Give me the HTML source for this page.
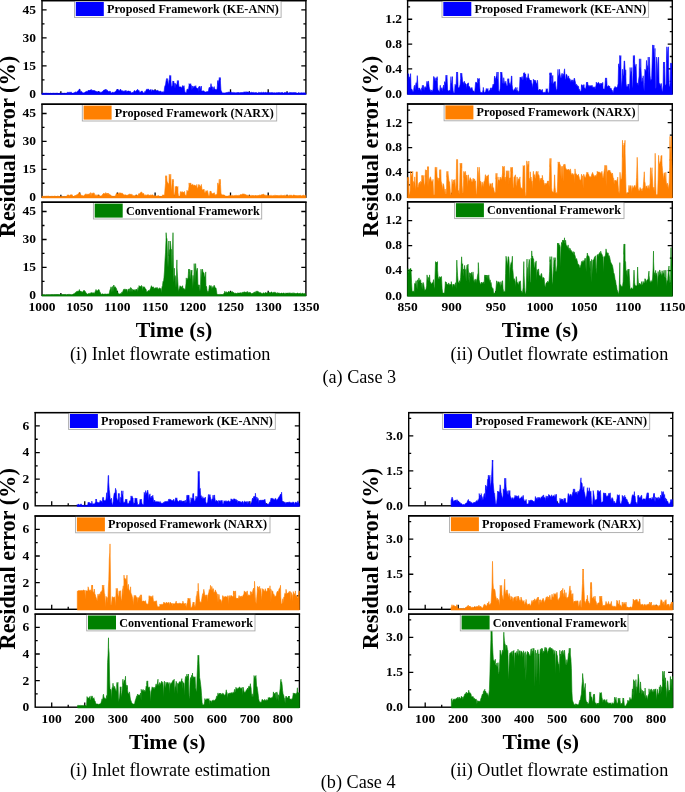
<!DOCTYPE html>
<html><head><meta charset="utf-8"><title>Residual error figure</title>
<style>html,body{margin:0;padding:0;background:#fff;width:685px;height:792px;overflow:hidden;position:relative}</style>
</head><body>
<svg width="685" height="792" viewBox="0 0 685 792" style="position:absolute;left:0;top:0;will-change:transform"><rect width="685" height="792" fill="#fff"/><rect x="42" y="0.6" width="263.9" height="93.2" fill="none" stroke="#000" stroke-width="1.4"/><path d="M42 79.82h2.5M305.9 79.82h-2.5M42 65.84h4.6M305.9 65.84h-4.6M42 51.86h2.5M305.9 51.86h-2.5M42 37.88h4.6M305.9 37.88h-4.6M42 23.9h2.5M305.9 23.9h-2.5M42 9.92h4.6M305.9 9.92h-4.6M60.85 93.8v-2.5M79.7 93.8v-4.6M98.55 93.8v-2.5M117.4 93.8v-4.6M136.25 93.8v-2.5M155.1 93.8v-4.6M173.95 93.8v-2.5M192.8 93.8v-4.6M211.65 93.8v-2.5M230.5 93.8v-4.6M249.35 93.8v-2.5M268.2 93.8v-4.6M287.05 93.8v-2.5" stroke="#000" stroke-width="1.3" fill="none"/><path d="M42.0 94.5L42.00 93.2L42.50 93.3L43.00 93.3L43.50 93.2L44.00 93.2L44.50 93.3L45.00 93.2L45.50 93.2L46.00 93.3L46.50 93.2L47.00 93.2L47.50 93.3L48.00 93.3L48.50 93.3L49.00 93.3L49.50 93.4L50.00 93.3L50.50 93.2L51.00 93.3L51.50 93.4L52.00 93.3L52.50 93.3L53.00 93.2L53.50 93.2L54.00 93.2L54.50 93.3L55.00 93.3L55.50 93.3L56.00 93.4L56.50 93.2L57.00 93.3L57.50 93.2L58.00 93.3L58.50 93.6L59.00 93.2L59.50 93.3L60.00 93.3L60.50 93.3L61.00 93.3L61.50 93.3L62.00 93.3L62.50 93.2L63.00 93.2L63.50 93.3L64.00 93.4L64.50 93.2L65.00 93.3L65.50 93.3L66.00 93.3L66.50 93.2L67.00 93.3L67.50 92.2L68.00 92.3L68.50 92.4L69.00 92.6L69.50 92.3L70.00 92.4L70.50 92.3L71.00 92.3L71.30 92.2L71.50 92.4L72.00 92.8L72.50 93.3L73.00 93.0L73.50 93.0L74.00 92.7L74.50 92.6L75.00 92.2L75.50 91.8L76.00 92.7L76.50 92.1L77.00 91.6L77.50 91.4L78.00 91.2L78.50 90.3L79.00 89.8L79.40 88.9L79.50 89.3L80.00 90.5L80.50 92.2L81.00 91.9L81.50 91.3L82.00 91.7L82.50 92.9L83.00 92.5L83.50 92.9L84.00 93.3L84.50 92.4L85.00 91.9L85.50 92.1L86.00 91.4L86.50 91.4L87.00 91.3L87.50 91.7L88.00 90.4L88.50 90.6L89.00 90.0L89.50 90.8L90.00 90.0L90.50 90.1L91.00 89.6L91.50 89.7L92.00 90.8L92.50 90.3L93.00 90.3L93.50 90.6L94.00 90.3L94.50 90.5L95.00 91.2L95.50 91.1L96.00 91.3L96.50 91.7L97.00 91.2L97.50 92.0L98.00 92.0L98.50 91.8L99.00 91.8L99.50 91.8L100.00 92.2L100.50 92.2L101.00 92.4L101.50 92.1L102.00 92.0L102.50 91.5L103.00 90.8L103.50 90.6L104.00 89.8L104.50 90.0L105.00 90.0L105.50 90.2L105.70 89.0L106.00 89.6L106.50 89.8L107.00 90.7L107.50 90.3L108.00 91.2L108.50 91.6L109.00 91.4L109.50 91.3L110.00 91.2L110.50 91.4L111.00 92.8L111.50 93.2L112.00 92.6L112.30 91.9L112.50 92.5L113.00 92.5L113.50 92.4L114.00 92.2L114.50 92.3L115.00 91.9L115.50 91.3L116.00 90.7L116.50 90.6L117.00 89.5L117.50 89.0L118.00 89.8L118.50 89.8L119.00 91.0L119.50 90.7L120.00 89.8L120.50 89.0L121.00 90.2L121.50 90.7L122.00 90.4L122.50 90.7L123.00 91.5L123.50 90.9L124.00 91.3L124.50 91.3L125.00 90.6L125.50 91.3L126.00 90.3L126.50 91.7L127.00 91.3L127.50 91.3L128.00 91.0L128.50 91.0L129.00 91.1L129.50 91.6L130.00 90.9L130.50 91.4L131.00 92.4L131.50 93.1L132.00 92.5L132.50 92.6L133.00 92.5L133.50 91.9L134.00 91.1L134.50 90.4L135.00 91.0L135.50 92.5L136.00 90.7L136.50 90.5L137.00 90.7L137.50 89.2L138.00 89.8L138.50 90.9L139.00 90.4L139.50 91.9L140.00 92.6L140.50 91.9L141.00 92.0L141.30 90.9L141.50 91.5L142.00 91.1L142.20 90.9L142.50 91.6L143.00 92.6L143.50 92.9L144.00 92.7L144.50 92.7L145.00 91.2L145.50 92.6L146.00 90.3L146.50 89.3L147.00 89.7L147.50 89.3L148.00 88.9L148.50 89.3L149.00 89.5L149.50 90.5L150.00 90.1L150.50 89.9L151.00 89.3L151.50 91.7L152.00 90.8L152.20 89.8L152.50 89.9L153.00 90.0L153.50 90.4L154.00 90.2L154.50 90.3L155.00 90.2L155.50 91.1L156.00 90.5L156.50 90.8L157.00 90.3L157.50 90.3L158.00 91.3L158.50 90.7L159.00 91.4L159.50 91.3L160.00 92.1L160.50 91.0L161.00 91.2L161.50 92.2L162.00 92.2L162.50 91.9L163.00 91.8L163.50 91.7L164.00 92.7L164.50 87.9L165.00 85.4L165.50 85.2L166.00 81.2L166.50 78.9L166.60 78.5L167.00 81.5L167.50 80.7L167.70 78.5L168.00 82.4L168.50 85.5L169.00 80.7L169.50 79.3L169.70 75.4L170.00 75.7L170.50 78.5L170.70 75.4L171.00 81.6L171.50 87.5L172.00 85.9L172.50 85.6L172.80 81.0L173.00 81.1L173.50 81.5L173.80 81.0L174.00 83.2L174.50 83.3L175.00 88.5L175.50 83.4L176.00 84.2L176.50 85.3L177.00 84.1L177.40 80.5L177.50 81.2L178.00 83.1L178.40 80.5L178.50 82.5L179.00 86.8L179.50 87.0L180.00 86.7L180.50 87.1L181.00 86.7L181.50 88.0L182.00 87.8L182.50 85.6L183.00 86.1L183.50 87.4L184.00 85.6L184.50 89.5L185.00 92.3L185.50 92.4L186.00 92.5L186.50 92.4L187.00 89.2L187.50 89.2L188.00 89.3L188.50 89.6L189.00 85.4L189.10 83.6L189.50 84.9L190.00 84.1L190.50 85.1L190.70 83.6L191.00 86.0L191.50 85.6L192.00 90.6L192.50 86.3L193.00 86.0L193.50 87.4L194.00 87.4L194.50 85.9L195.00 86.7L195.50 87.1L195.80 85.6L196.00 87.3L196.50 88.0L197.00 87.9L197.50 88.5L198.00 89.0L198.50 87.3L199.00 91.8L199.30 86.1L199.50 88.4L200.00 86.4L200.50 90.2L201.00 87.4L201.40 86.1L201.50 90.8L202.00 91.3L202.50 90.9L203.00 91.0L203.50 90.9L204.00 90.8L204.50 91.7L205.00 92.1L205.50 92.0L206.00 92.1L206.50 91.6L207.00 91.9L207.50 91.5L208.00 91.8L208.50 90.5L209.00 87.8L209.50 87.2L210.00 88.5L210.50 86.7L211.00 83.6L211.50 86.5L212.00 87.0L212.50 86.8L213.00 90.5L213.50 88.1L214.00 87.0L214.20 86.6L214.50 89.1L215.00 88.7L215.50 90.1L216.00 89.3L216.50 89.7L217.00 89.6L217.50 84.0L217.70 80.5L218.00 84.3L218.50 80.7L219.00 80.2L219.30 77.5L219.50 77.9L220.00 80.0L220.30 77.5L220.50 83.1L221.00 90.9L221.30 90.8L221.50 91.3L222.00 92.3L222.50 93.1L223.00 93.0L223.50 92.9L224.00 92.8L224.50 93.0L225.00 93.1L225.50 92.8L226.00 92.7L226.50 92.6L227.00 92.3L227.50 92.4L228.00 92.2L228.50 92.1L229.00 92.3L229.50 92.2L230.00 91.8L230.50 92.1L231.00 92.2L231.50 92.2L232.00 92.5L232.50 92.6L233.00 92.6L233.50 92.4L234.00 92.7L234.50 92.5L235.00 92.9L235.50 92.6L236.00 93.3L236.50 92.6L237.00 92.5L237.50 92.5L238.00 92.4L238.50 92.5L239.00 92.4L239.50 93.1L240.00 92.3L240.50 92.7L241.00 92.4L241.50 92.6L242.00 92.2L242.50 92.5L243.00 92.4L243.50 92.2L244.00 92.1L244.50 92.0L245.00 92.2L245.50 91.9L246.00 92.2L246.50 91.9L247.00 91.8L247.50 92.1L248.00 92.1L248.50 92.2L249.00 92.3L249.50 92.1L250.00 92.9L250.50 92.6L251.00 92.4L251.50 92.3L252.00 92.2L252.50 92.6L253.00 92.6L253.50 92.4L254.00 92.5L254.50 92.8L255.00 92.6L255.50 92.6L256.00 92.7L256.50 92.7L257.00 92.5L257.50 93.4L258.00 92.8L258.50 92.4L259.00 92.5L259.50 92.5L260.00 92.8L260.50 92.5L261.00 92.7L261.50 92.3L262.00 92.5L262.50 92.7L263.00 92.3L263.50 92.3L264.00 92.4L264.50 92.8L265.00 92.2L265.50 92.4L266.00 92.3L266.50 92.7L267.00 92.5L267.50 92.4L268.00 92.3L268.50 92.6L269.00 92.6L269.50 92.5L270.00 93.0L270.50 92.6L271.00 92.7L271.50 92.6L272.00 92.5L272.50 92.5L273.00 93.2L273.50 92.6L274.00 93.3L274.50 92.6L275.00 92.9L275.50 92.9L276.00 92.6L276.50 92.8L277.00 92.6L277.50 92.8L278.00 92.6L278.50 92.6L279.00 92.6L279.50 92.6L280.00 92.8L280.50 92.7L281.00 92.7L281.50 92.5L282.00 92.6L282.50 92.6L283.00 92.6L283.50 93.2L284.00 92.7L284.50 92.5L285.00 92.8L285.50 92.5L286.00 92.6L286.50 92.7L287.00 92.5L287.50 92.5L288.00 92.5L288.50 93.1L289.00 92.8L289.50 92.4L290.00 92.4L290.50 92.5L291.00 92.5L291.50 92.6L292.00 92.8L292.50 92.6L293.00 92.7L293.50 92.5L294.00 92.5L294.50 92.5L295.00 92.8L295.50 92.6L296.00 92.6L296.50 92.9L297.00 93.2L297.50 93.3L298.00 92.8L298.50 92.6L299.00 92.9L299.50 92.9L300.00 92.7L300.50 93.0L301.00 92.8L301.50 92.8L302.00 92.8L302.50 92.9L303.00 92.7L303.50 92.8L304.00 92.9L304.50 92.8L305.00 92.8L305.50 93.0L305.9 94.5Z" fill="#0000ff" stroke="#0000ff" stroke-width="0.6" stroke-linejoin="round"/><rect x="74.5" y="0.6" width="206.6" height="16.8" fill="#fff" stroke="#a8a8a8" stroke-width="0.9"/><rect x="75.8" y="2" width="28" height="14" fill="#0000ff"/><text x="107" y="13" font-family='"Liberation Serif", serif' font-weight="bold" font-size="12.15">Proposed Framework (KE-ANN)</text><path d="M41.3 0.6H306.6" stroke="#000" stroke-width="1.4"/><text x="36.1" y="97.7" text-anchor="end" font-family='"Liberation Serif", serif' font-weight="bold" font-size="13.5">0</text><text x="36.1" y="69.74" text-anchor="end" font-family='"Liberation Serif", serif' font-weight="bold" font-size="13.5">15</text><text x="36.1" y="41.78" text-anchor="end" font-family='"Liberation Serif", serif' font-weight="bold" font-size="13.5">30</text><text x="36.1" y="13.82" text-anchor="end" font-family='"Liberation Serif", serif' font-weight="bold" font-size="13.5">45</text><rect x="42" y="104.2" width="263.9" height="93" fill="none" stroke="#000" stroke-width="1.4"/><path d="M42 183.25h2.5M305.9 183.25h-2.5M42 169.3h4.6M305.9 169.3h-4.6M42 155.35h2.5M305.9 155.35h-2.5M42 141.4h4.6M305.9 141.4h-4.6M42 127.45h2.5M305.9 127.45h-2.5M42 113.5h4.6M305.9 113.5h-4.6M60.85 197.2v-2.5M79.7 197.2v-4.6M98.55 197.2v-2.5M117.4 197.2v-4.6M136.25 197.2v-2.5M155.1 197.2v-4.6M173.95 197.2v-2.5M192.8 197.2v-4.6M211.65 197.2v-2.5M230.5 197.2v-4.6M249.35 197.2v-2.5M268.2 197.2v-4.6M287.05 197.2v-2.5" stroke="#000" stroke-width="1.3" fill="none"/><path d="M42.0 197.9L42.00 196.1L42.50 196.3L43.00 196.3L43.50 196.4L44.00 196.6L44.50 196.3L45.00 196.4L45.50 196.3L46.00 196.3L46.50 196.2L47.00 196.1L47.50 196.2L48.00 196.1L48.50 196.1L49.00 196.2L49.50 196.4L50.00 196.3L50.50 196.4L51.00 196.4L51.50 196.3L52.00 196.1L52.50 196.3L53.00 196.2L53.50 196.4L54.00 196.1L54.50 196.1L55.00 196.1L55.50 196.3L56.00 196.7L56.50 196.6L57.00 196.3L57.50 196.1L58.00 196.2L58.50 196.3L59.00 196.1L59.50 196.5L60.00 196.5L60.50 196.4L61.00 196.5L61.50 196.5L62.00 196.6L62.50 196.4L63.00 196.6L63.50 196.6L64.00 196.5L64.50 196.4L65.00 196.4L65.50 196.6L66.00 196.6L66.50 196.4L67.00 195.8L67.50 194.8L68.00 195.3L68.50 195.1L69.00 194.9L69.50 196.5L70.00 195.3L70.50 194.8L71.00 194.8L71.50 194.8L72.00 195.2L72.30 194.8L72.50 195.5L73.00 196.4L73.50 196.5L74.00 196.2L74.50 195.7L75.00 195.4L75.50 195.5L76.00 195.4L76.50 194.8L77.00 195.0L77.50 194.4L78.00 193.7L78.50 194.1L79.00 192.8L79.40 192.2L79.50 193.2L80.00 193.9L80.50 194.5L81.00 194.8L81.50 195.2L82.00 195.7L82.50 195.7L83.00 195.6L83.50 196.5L84.00 195.4L84.50 194.9L85.00 195.1L85.50 193.9L86.00 194.2L86.50 194.2L87.00 194.4L87.50 194.3L88.00 194.2L88.50 194.0L89.00 194.6L89.50 194.1L90.00 193.1L90.50 192.7L91.00 195.9L91.50 194.0L92.00 192.8L92.50 194.0L93.00 193.8L93.50 193.0L94.00 192.7L94.50 194.1L95.00 195.7L95.50 195.4L96.00 194.6L96.50 196.1L97.00 195.4L97.50 195.0L98.00 195.3L98.50 195.3L99.00 196.1L99.50 195.3L100.00 195.7L100.50 196.1L101.00 196.1L101.50 195.7L102.00 195.4L102.50 194.5L103.00 193.8L103.50 193.5L104.00 193.3L104.50 193.8L105.00 193.5L105.50 193.4L105.70 192.6L106.00 193.2L106.50 193.4L107.00 194.0L107.50 193.0L108.00 195.2L108.50 193.3L109.00 194.1L109.50 194.3L110.00 195.2L110.50 195.0L111.00 195.1L111.50 196.4L112.00 196.3L112.50 196.2L113.00 196.3L113.50 196.3L114.00 196.4L114.50 196.2L115.00 196.4L115.50 195.5L116.00 194.3L116.50 193.3L117.00 193.6L117.50 193.8L118.00 193.7L118.50 193.6L119.00 192.6L119.50 193.2L120.00 193.3L120.50 193.0L121.00 192.9L121.50 193.3L122.00 193.5L122.50 193.3L123.00 194.0L123.50 194.8L124.00 194.8L124.50 194.9L125.00 195.2L125.50 194.8L126.00 195.0L126.50 195.3L127.00 195.0L127.50 195.2L128.00 195.1L128.50 194.8L129.00 194.3L129.40 193.8L129.50 194.7L130.00 194.5L130.50 194.6L131.00 193.9L131.50 194.9L132.00 194.4L132.50 195.0L133.00 196.3L133.50 195.5L134.00 195.8L134.50 195.7L135.00 195.4L135.50 195.5L136.00 195.2L136.50 195.3L137.00 195.5L137.50 195.0L138.00 196.1L138.50 194.0L139.00 193.6L139.50 194.2L140.00 192.9L140.50 192.8L141.00 192.4L141.30 191.8L141.50 192.5L142.00 192.3L142.50 193.7L143.00 193.8L143.50 193.2L144.00 194.5L144.50 195.2L145.00 195.4L145.50 194.7L146.00 195.5L146.50 195.2L147.00 195.1L147.50 194.8L148.00 195.1L148.40 194.6L148.50 195.6L149.00 195.1L149.50 195.4L150.00 194.8L150.50 195.2L151.00 195.2L151.50 195.2L152.00 194.8L152.50 194.9L153.00 194.9L153.50 195.4L154.00 195.7L154.50 196.0L155.00 195.7L155.50 195.7L156.00 195.9L156.50 196.1L157.00 195.7L157.50 195.9L158.00 195.7L158.50 195.7L159.00 195.7L159.50 196.4L160.00 196.6L160.50 196.4L161.00 196.6L161.50 196.5L162.00 196.4L162.50 195.0L162.60 194.8L163.00 195.3L163.50 195.1L164.00 195.1L164.50 195.3L165.00 188.9L165.50 183.5L165.60 175.7L166.00 178.0L166.50 177.5L166.60 175.7L167.00 181.2L167.50 182.3L168.00 183.2L168.50 184.7L169.00 182.4L169.20 174.2L169.50 174.9L170.00 179.6L170.50 178.1L170.70 174.2L171.00 183.4L171.50 191.7L172.00 184.8L172.30 179.3L172.50 180.8L173.00 182.0L173.30 179.3L173.50 184.6L174.00 196.5L174.50 195.3L175.00 191.8L175.30 186.5L175.50 187.1L176.00 186.6L176.50 186.5L177.00 186.6L177.50 187.7L177.90 186.5L178.00 192.8L178.50 196.3L179.00 196.3L179.50 196.2L180.00 195.6L180.40 191.6L180.50 192.1L181.00 192.3L181.50 191.7L182.00 192.9L182.50 191.7L183.00 192.1L183.50 192.8L184.00 191.8L184.50 191.6L185.00 194.3L185.50 195.6L186.00 195.2L186.50 195.2L187.00 190.2L187.50 192.1L188.00 191.2L188.50 190.2L189.00 186.2L189.10 182.9L189.50 186.1L190.00 183.1L190.50 184.8L190.70 182.9L191.00 184.7L191.50 184.9L192.00 184.7L192.50 184.4L193.00 184.4L193.50 186.3L194.00 185.0L194.50 185.0L195.00 185.6L195.50 185.8L196.00 186.0L196.50 186.6L196.80 184.4L197.00 188.2L197.50 188.0L198.00 187.2L198.50 185.1L198.80 184.4L199.00 185.3L199.50 185.0L200.00 187.5L200.50 185.8L201.00 188.0L201.40 184.4L201.50 185.9L202.00 189.2L202.50 189.7L203.00 190.1L203.50 189.8L204.00 189.0L204.50 192.6L205.00 192.6L205.50 192.3L206.00 190.6L206.50 191.3L207.00 191.4L207.50 190.6L208.00 192.9L208.50 195.7L209.00 195.4L209.50 195.5L210.00 191.1L210.50 191.4L211.00 191.1L211.50 193.3L212.00 193.3L212.50 193.8L213.00 193.7L213.50 193.0L214.00 193.9L214.20 192.6L214.50 193.8L215.00 195.2L215.50 195.0L216.00 195.2L216.20 194.2L216.50 194.9L217.00 195.0L217.50 188.1L217.70 182.9L218.00 184.0L218.50 186.6L219.00 182.3L219.30 179.3L219.50 184.0L220.00 183.8L220.30 179.3L220.50 184.6L221.00 193.3L221.50 194.3L222.00 195.0L222.50 194.9L223.00 194.8L223.50 194.9L224.00 194.9L224.50 195.1L225.00 195.6L225.50 196.2L226.00 196.0L226.50 196.2L227.00 196.1L227.50 196.2L228.00 195.9L228.50 195.8L229.00 196.0L229.50 195.6L230.00 195.6L230.50 195.4L231.00 195.4L231.50 195.7L232.00 195.8L232.50 195.4L233.00 195.4L233.50 195.8L234.00 195.7L234.50 195.5L235.00 195.8L235.50 195.3L236.00 195.6L236.50 195.2L237.00 196.2L237.50 195.3L238.00 196.6L238.50 195.2L239.00 195.5L239.50 195.3L240.00 195.3L240.50 194.5L241.00 194.6L241.50 194.8L242.00 194.2L242.50 194.2L243.00 193.7L243.50 194.3L244.00 194.1L244.50 194.2L245.00 194.6L245.50 194.6L246.00 194.7L246.50 195.1L247.00 195.4L247.50 195.3L248.00 195.4L248.50 196.1L249.00 195.4L249.50 195.8L250.00 195.9L250.50 195.5L251.00 195.8L251.50 195.4L252.00 195.6L252.50 195.5L253.00 195.3L253.50 195.5L254.00 195.7L254.50 195.8L255.00 195.3L255.50 195.5L256.00 195.3L256.50 195.6L257.00 196.3L257.50 195.5L258.00 195.3L258.50 195.5L259.00 195.3L259.50 195.1L260.00 195.5L260.50 195.0L261.00 195.1L261.50 194.7L262.00 194.7L262.50 194.6L263.00 194.2L263.50 194.3L264.00 194.5L264.50 195.0L265.00 195.2L265.50 195.2L266.00 195.5L266.50 195.4L267.00 195.2L267.50 195.5L268.00 195.8L268.50 195.6L269.00 195.5L269.50 195.5L270.00 195.5L270.50 195.4L271.00 195.7L271.50 195.4L272.00 195.7L272.50 195.7L273.00 195.7L273.50 195.5L274.00 195.6L274.50 195.2L275.00 195.7L275.50 195.2L276.00 195.3L276.50 195.6L277.00 195.3L277.50 195.5L278.00 195.6L278.50 195.6L279.00 195.8L279.50 195.5L280.00 195.7L280.50 195.2L281.00 195.3L281.50 195.3L282.00 195.7L282.50 195.6L283.00 195.3L283.50 195.5L284.00 195.5L284.50 195.3L285.00 195.5L285.50 195.4L286.00 195.7L286.50 195.4L287.00 195.7L287.50 195.3L288.00 195.6L288.50 195.7L289.00 195.5L289.50 195.3L290.00 195.0L290.50 195.3L291.00 195.6L291.50 195.1L292.00 195.4L292.50 196.0L293.00 195.2L293.50 195.1L294.00 195.1L294.50 195.1L295.00 195.6L295.50 195.6L296.00 195.2L296.50 195.6L297.00 195.7L297.50 195.5L298.00 195.7L298.50 195.5L299.00 195.5L299.50 195.5L300.00 195.2L300.50 195.4L301.00 195.5L301.50 196.3L302.00 195.3L302.50 195.7L303.00 195.3L303.50 195.2L304.00 195.3L304.50 195.7L305.00 195.4L305.50 195.2L305.9 197.9Z" fill="#ff8000" stroke="#ff8000" stroke-width="0.6" stroke-linejoin="round"/><rect x="82.3" y="104.2" width="194.4" height="16.8" fill="#fff" stroke="#a8a8a8" stroke-width="0.9"/><rect x="83.6" y="105.6" width="28" height="14" fill="#ff8000"/><text x="114.8" y="116.6" font-family='"Liberation Serif", serif' font-weight="bold" font-size="12.15">Proposed Framework (NARX)</text><path d="M41.3 104.2H306.6" stroke="#000" stroke-width="1.4"/><text x="36.1" y="201.1" text-anchor="end" font-family='"Liberation Serif", serif' font-weight="bold" font-size="13.5">0</text><text x="36.1" y="173.2" text-anchor="end" font-family='"Liberation Serif", serif' font-weight="bold" font-size="13.5">15</text><text x="36.1" y="145.3" text-anchor="end" font-family='"Liberation Serif", serif' font-weight="bold" font-size="13.5">30</text><text x="36.1" y="117.4" text-anchor="end" font-family='"Liberation Serif", serif' font-weight="bold" font-size="13.5">45</text><rect x="42" y="202.2" width="263.9" height="93.2" fill="none" stroke="#000" stroke-width="1.4"/><path d="M42 281.42h2.5M305.9 281.42h-2.5M42 267.44h4.6M305.9 267.44h-4.6M42 253.46h2.5M305.9 253.46h-2.5M42 239.48h4.6M305.9 239.48h-4.6M42 225.5h2.5M305.9 225.5h-2.5M42 211.52h4.6M305.9 211.52h-4.6M60.85 295.4v-2.5M79.7 295.4v-4.6M98.55 295.4v-2.5M117.4 295.4v-4.6M136.25 295.4v-2.5M155.1 295.4v-4.6M173.95 295.4v-2.5M192.8 295.4v-4.6M211.65 295.4v-2.5M230.5 295.4v-4.6M249.35 295.4v-2.5M268.2 295.4v-4.6M287.05 295.4v-2.5" stroke="#000" stroke-width="1.3" fill="none"/><path d="M42.0 296.1L42.00 294.8L42.50 294.7L43.00 294.8L43.50 294.7L44.00 294.7L44.50 294.8L45.00 294.8L45.50 295.0L46.00 294.7L46.50 294.8L47.00 294.6L47.50 294.8L48.00 294.7L48.50 294.7L49.00 294.6L49.50 294.8L50.00 294.7L50.50 294.7L51.00 294.6L51.50 294.6L52.00 294.8L52.50 294.6L53.00 294.6L53.50 294.7L54.00 294.6L54.50 294.5L55.00 294.7L55.50 294.5L56.00 294.6L56.50 294.5L57.00 294.6L57.50 294.5L58.00 294.6L58.50 294.5L59.00 294.7L59.50 294.7L60.00 294.5L60.50 294.4L61.00 294.5L61.50 294.6L62.00 294.7L62.50 294.5L63.00 294.5L63.50 294.5L64.00 294.5L64.50 294.5L65.00 294.4L65.50 294.6L65.60 294.4L66.00 294.5L66.50 294.9L67.00 294.6L67.50 294.5L68.00 294.4L68.50 294.4L69.00 294.4L69.50 294.4L70.00 294.5L70.50 294.6L71.00 295.0L71.50 294.7L72.00 294.7L72.50 294.6L73.00 294.3L73.50 293.8L74.00 293.7L74.50 293.4L75.00 293.2L75.50 292.4L76.00 292.6L76.50 291.4L77.00 291.9L77.50 291.2L78.00 290.8L78.50 291.2L79.00 291.3L79.40 289.5L79.50 290.5L80.00 291.5L80.50 291.8L81.00 291.0L81.50 292.1L82.00 292.3L82.50 292.1L83.00 291.5L83.50 290.7L84.00 290.4L84.30 290.1L84.50 291.5L85.00 291.1L85.50 292.0L86.00 292.8L86.50 293.5L87.00 293.7L87.50 294.2L88.00 293.8L88.50 293.5L89.00 293.8L89.50 293.4L90.00 293.2L90.50 293.4L91.00 292.4L91.50 292.8L92.00 293.0L92.50 293.2L93.00 292.5L93.50 293.3L94.00 292.8L94.50 294.0L95.00 291.9L95.50 290.9L96.00 289.5L96.50 290.4L97.00 291.2L97.50 290.7L98.00 289.9L98.50 289.8L99.00 289.5L99.50 291.1L100.00 292.4L100.50 292.7L101.00 293.9L101.50 294.6L102.00 294.1L102.50 293.8L103.00 293.9L103.50 294.3L104.00 293.9L104.50 294.1L105.00 294.3L105.50 294.0L106.00 294.0L106.50 294.2L107.00 294.0L107.50 294.0L108.00 294.0L108.50 294.1L109.00 293.9L109.50 292.2L110.00 289.8L110.50 289.1L111.00 286.8L111.50 288.2L112.00 292.7L112.50 286.5L113.00 292.0L113.50 285.5L114.00 285.0L114.50 288.1L115.00 286.7L115.50 287.0L116.00 288.4L116.50 288.6L117.00 291.5L117.50 291.7L118.00 293.6L118.50 293.4L119.00 293.9L119.50 294.0L120.00 293.7L120.50 293.4L121.00 293.9L121.50 293.0L122.00 291.9L122.50 293.3L123.00 290.4L123.50 290.0L124.00 288.9L124.50 289.2L125.00 290.4L125.50 289.2L126.00 289.6L126.50 289.6L127.00 289.2L127.50 292.7L128.00 290.7L128.50 289.1L129.00 289.0L129.50 288.8L130.00 292.3L130.50 287.8L130.70 287.4L131.00 289.5L131.50 288.3L132.00 292.1L132.50 289.4L133.00 289.6L133.50 290.1L134.00 289.5L134.50 289.9L135.00 290.9L135.50 290.0L136.00 289.1L136.50 289.5L137.00 289.5L137.50 291.9L138.00 287.6L138.50 291.4L139.00 285.6L139.50 286.4L140.00 286.1L140.50 286.4L141.00 287.1L141.50 285.4L142.00 286.4L142.50 290.7L143.00 286.5L143.50 287.1L144.00 287.6L144.50 286.8L145.00 288.3L145.50 288.7L146.00 289.3L146.50 291.3L147.00 291.9L147.50 291.6L148.00 290.7L148.50 290.5L149.00 290.8L149.50 290.4L150.00 289.4L150.50 288.5L151.00 287.0L151.40 285.7L151.50 286.1L152.00 286.7L152.50 287.3L153.00 286.9L153.50 286.9L154.00 288.9L154.50 288.2L155.00 287.7L155.50 288.0L156.00 288.2L156.50 287.6L157.00 288.4L157.50 287.6L158.00 289.5L158.50 288.8L159.00 288.9L159.50 288.0L160.00 287.8L160.50 289.5L161.00 288.5L161.50 293.2L162.00 286.9L162.50 285.7L163.00 281.4L163.50 282.0L164.00 277.2L164.50 270.9L165.00 259.7L165.50 252.9L166.00 240.5L166.10 232.7L166.50 237.6L167.00 239.1L167.50 254.9L168.00 267.4L168.50 256.0L168.80 241.0L169.00 255.9L169.50 249.7L170.00 249.4L170.20 241.0L170.50 243.2L171.00 248.7L171.50 249.5L172.00 271.1L172.50 254.2L173.00 232.7L173.50 275.6L174.00 282.6L174.40 268.2L174.50 280.1L175.00 275.4L175.50 277.3L176.00 288.1L176.50 275.8L176.90 259.9L177.00 268.0L177.50 276.8L178.00 284.9L178.50 291.5L179.00 289.6L179.50 288.0L180.00 285.7L180.50 286.5L181.00 286.5L181.50 287.6L182.00 286.3L182.50 286.3L182.60 285.7L183.00 289.1L183.50 288.4L184.00 288.4L184.50 288.9L185.00 289.9L185.50 288.1L186.00 283.5L186.30 277.9L186.50 280.7L187.00 279.8L187.50 278.5L188.00 279.0L188.50 271.7L188.60 269.1L189.00 272.2L189.50 273.2L189.60 269.1L190.00 279.6L190.50 276.1L191.00 270.1L191.50 273.6L191.90 270.1L192.00 276.5L192.50 289.2L193.00 275.4L193.50 286.4L194.00 272.1L194.20 263.6L194.50 271.5L195.00 283.3L195.50 265.8L195.60 263.6L196.00 269.7L196.50 272.4L197.00 268.6L197.40 268.2L197.50 271.0L198.00 287.6L198.50 284.8L199.00 286.4L199.20 284.8L199.50 288.5L200.00 291.3L200.50 284.5L201.00 269.1L201.50 280.6L202.00 270.6L202.50 269.1L203.00 272.7L203.50 272.4L204.00 273.0L204.50 277.2L205.00 276.4L205.50 276.1L205.70 271.9L206.00 288.1L206.50 286.3L207.00 290.0L207.50 292.9L208.00 291.0L208.50 292.8L209.00 288.3L209.40 285.3L209.50 285.4L210.00 286.0L210.50 286.4L211.00 285.4L211.50 289.6L212.00 286.3L212.50 288.2L213.00 287.7L213.50 286.7L214.00 285.3L214.50 285.7L215.00 287.6L215.50 287.9L216.00 287.9L216.50 290.8L217.00 294.4L217.50 294.5L218.00 294.5L218.50 294.6L219.00 294.7L219.50 294.4L220.00 294.7L220.50 294.4L221.00 294.5L221.50 294.5L222.00 294.5L222.50 294.6L223.00 294.6L223.50 294.6L224.00 293.1L224.50 292.5L224.60 291.4L225.00 291.4L225.50 292.1L226.00 294.0L226.50 291.8L227.00 291.9L227.50 293.3L228.00 292.0L228.50 291.5L229.00 291.4L229.50 292.2L230.00 292.1L230.50 292.2L231.00 292.2L231.50 292.1L232.00 291.4L232.50 291.8L233.00 292.5L233.50 292.5L234.00 292.7L234.50 293.2L235.00 293.2L235.50 293.2L236.00 293.0L236.50 293.5L237.00 293.4L237.50 293.0L238.00 292.9L238.50 293.1L239.00 293.1L239.50 293.1L240.00 292.7L240.50 293.0L241.00 292.5L241.50 293.8L242.00 292.6L242.50 292.3L243.00 293.6L243.50 292.1L244.00 292.0L244.50 291.8L245.00 292.6L245.50 291.9L246.00 292.5L246.50 291.9L247.00 292.3L247.50 292.5L247.60 291.4L248.00 292.2L248.50 292.9L249.00 292.3L249.50 292.3L250.00 293.2L250.50 292.5L251.00 293.0L251.50 294.4L252.00 293.1L252.50 293.4L253.00 293.3L253.50 293.0L254.00 292.2L254.50 292.0L255.00 293.4L255.50 291.9L256.00 292.2L256.30 290.9L256.50 293.2L257.00 291.6L257.50 291.3L258.00 291.6L258.50 291.7L259.00 292.4L259.50 292.4L260.00 292.7L260.50 292.4L261.00 292.9L261.50 293.3L262.00 293.4L262.50 293.4L263.00 293.2L263.50 292.8L264.00 293.0L264.50 294.0L265.00 292.6L265.50 292.7L266.00 292.6L266.50 293.1L267.00 292.8L267.50 292.9L268.00 292.4L268.50 293.0L269.00 293.0L269.50 292.3L270.00 293.0L270.50 292.9L271.00 292.0L271.50 292.0L271.70 291.9L272.00 292.1L272.50 293.6L273.00 292.5L273.50 292.4L274.00 292.4L274.50 292.3L275.00 292.5L275.50 292.4L276.00 292.7L276.50 293.0L277.00 293.7L277.50 292.6L278.00 293.3L278.50 293.1L279.00 293.1L279.50 293.2L280.00 293.3L280.50 293.5L281.00 293.0L281.50 293.1L282.00 293.0L282.50 293.4L283.00 292.9L283.50 293.1L284.00 293.1L284.50 293.4L285.00 293.4L285.50 293.0L286.00 293.5L286.50 293.1L287.00 293.6L287.50 293.2L288.00 293.6L288.50 292.9L289.00 293.0L289.50 293.0L290.00 293.3L290.50 292.9L291.00 293.6L291.50 293.1L292.00 293.2L292.50 293.1L293.00 293.4L293.50 293.0L294.00 293.3L294.50 293.3L295.00 292.9L295.50 293.5L296.00 293.6L296.50 293.6L297.00 293.0L297.50 293.1L298.00 293.2L298.50 293.7L299.00 293.1L299.50 293.6L300.00 293.2L300.50 293.2L301.00 293.4L301.50 293.8L302.00 293.3L302.50 293.3L303.00 293.3L303.50 293.8L304.00 293.5L304.50 293.5L305.00 293.8L305.50 293.6L305.9 296.1Z" fill="#008000" stroke="#008000" stroke-width="0.6" stroke-linejoin="round"/><rect x="93.4" y="202.2" width="168.3" height="16.8" fill="#fff" stroke="#a8a8a8" stroke-width="0.9"/><rect x="94.7" y="203.6" width="28" height="14" fill="#008000"/><text x="125.9" y="214.6" font-family='"Liberation Serif", serif' font-weight="bold" font-size="12.15">Conventional Framework</text><path d="M41.3 202.2H306.6" stroke="#000" stroke-width="1.4"/><text x="36.1" y="299.3" text-anchor="end" font-family='"Liberation Serif", serif' font-weight="bold" font-size="13.5">0</text><text x="36.1" y="271.34" text-anchor="end" font-family='"Liberation Serif", serif' font-weight="bold" font-size="13.5">15</text><text x="36.1" y="243.38" text-anchor="end" font-family='"Liberation Serif", serif' font-weight="bold" font-size="13.5">30</text><text x="36.1" y="215.42" text-anchor="end" font-family='"Liberation Serif", serif' font-weight="bold" font-size="13.5">45</text><text x="42" y="311" text-anchor="middle" font-family='"Liberation Serif", serif' font-weight="bold" font-size="13.5">1000</text><text x="79.7" y="311" text-anchor="middle" font-family='"Liberation Serif", serif' font-weight="bold" font-size="13.5">1050</text><text x="117.4" y="311" text-anchor="middle" font-family='"Liberation Serif", serif' font-weight="bold" font-size="13.5">1100</text><text x="155.1" y="311" text-anchor="middle" font-family='"Liberation Serif", serif' font-weight="bold" font-size="13.5">1150</text><text x="192.8" y="311" text-anchor="middle" font-family='"Liberation Serif", serif' font-weight="bold" font-size="13.5">1200</text><text x="230.5" y="311" text-anchor="middle" font-family='"Liberation Serif", serif' font-weight="bold" font-size="13.5">1250</text><text x="268.2" y="311" text-anchor="middle" font-family='"Liberation Serif", serif' font-weight="bold" font-size="13.5">1300</text><text x="305.9" y="311" text-anchor="middle" font-family='"Liberation Serif", serif' font-weight="bold" font-size="13.5">1350</text><text x="173.95" y="337.2" text-anchor="middle" font-family='"Liberation Serif", serif' font-weight="bold" font-size="21.8">Time (s)</text><text transform="translate(15.1,146.5) rotate(-90)" x="0" y="0" text-anchor="middle" font-family='"Liberation Serif", serif' font-weight="bold" font-size="22.3">Residual error (%)</text><rect x="407.6" y="0.6" width="264.7" height="93.2" fill="none" stroke="#000" stroke-width="1.4"/><path d="M407.6 81.37h2.5M672.3 81.37h-2.5M407.6 68.95h4.6M672.3 68.95h-4.6M407.6 56.52h2.5M672.3 56.52h-2.5M407.6 44.09h4.6M672.3 44.09h-4.6M407.6 31.67h2.5M672.3 31.67h-2.5M407.6 19.24h4.6M672.3 19.24h-4.6M407.6 6.81h2.5M672.3 6.81h-2.5M429.66 93.8v-2.5M451.72 93.8v-4.6M473.77 93.8v-2.5M495.83 93.8v-4.6M517.89 93.8v-2.5M539.95 93.8v-4.6M562.01 93.8v-2.5M584.07 93.8v-4.6M606.12 93.8v-2.5M628.18 93.8v-4.6M650.24 93.8v-2.5" stroke="#000" stroke-width="1.3" fill="none"/><path d="M407.6 94.5L407.60 80.4L408.10 73.6L408.60 74.2L409.10 79.8L409.60 76.9L410.10 80.3L410.60 73.6L411.10 89.0L411.60 89.1L412.10 89.6L412.60 90.9L413.10 91.9L413.60 90.6L414.10 86.4L414.60 85.2L415.10 90.0L415.60 85.2L416.10 82.7L416.60 84.9L417.10 79.4L417.30 75.6L417.60 80.6L418.10 89.8L418.60 89.8L418.80 87.9L419.10 89.1L419.60 87.9L420.10 89.6L420.60 89.8L421.10 91.4L421.60 87.9L422.10 87.4L422.40 85.3L422.60 86.6L423.10 90.4L423.40 85.3L423.60 85.9L424.10 90.6L424.60 87.5L425.10 86.6L425.60 87.5L426.10 87.9L426.60 84.7L427.00 81.2L427.10 84.7L427.60 83.3L428.10 81.3L428.50 81.2L428.60 82.0L429.10 86.5L429.60 89.4L430.10 89.4L430.60 90.9L431.10 92.2L431.60 89.9L432.10 91.2L432.60 90.9L433.10 89.0L433.60 76.6L434.10 76.7L434.60 80.7L435.10 77.7L435.60 80.9L436.10 80.9L436.60 77.7L437.10 80.1L437.20 76.6L437.60 86.9L438.10 90.6L438.60 90.6L439.10 91.5L439.60 91.4L440.10 87.0L440.30 85.3L440.60 90.5L441.10 88.5L441.60 87.7L442.10 91.3L442.60 88.6L443.10 87.2L443.60 85.1L444.10 90.1L444.60 81.6L445.10 83.5L445.60 81.4L446.00 75.1L446.10 76.4L446.60 80.1L446.90 75.1L447.10 78.6L447.60 89.3L448.10 90.7L448.60 91.1L449.10 90.9L449.60 90.1L450.10 91.4L450.60 82.3L451.00 76.6L451.10 79.1L451.60 84.0L452.10 82.5L452.50 76.6L452.60 83.4L453.10 90.3L453.60 92.8L454.10 92.9L454.60 92.0L455.00 84.3L455.10 84.3L455.60 85.7L456.10 85.2L456.60 72.0L457.10 72.6L457.60 72.0L458.10 87.2L458.60 88.0L459.10 87.4L459.60 86.6L460.10 84.5L460.60 78.7L460.70 73.1L461.10 73.8L461.60 78.6L461.70 73.1L462.10 76.6L462.60 81.0L463.10 83.0L463.60 82.6L464.10 85.5L464.30 81.2L464.60 81.9L465.10 84.0L465.60 83.6L466.10 84.1L466.60 88.7L467.10 84.1L467.60 83.5L468.10 84.4L468.40 82.8L468.60 85.5L469.10 87.0L469.60 86.6L470.10 88.1L470.60 89.6L471.10 87.8L471.60 89.1L471.90 87.4L472.10 88.3L472.60 90.3L473.10 90.5L473.60 91.4L474.10 92.2L474.60 93.0L475.10 87.9L475.60 82.3L476.10 82.4L476.60 82.3L477.10 83.5L477.60 82.4L477.70 78.2L478.10 82.1L478.60 79.0L479.10 80.8L479.20 78.2L479.60 84.1L480.10 91.2L480.60 92.3L481.10 92.5L481.60 92.3L482.10 93.1L482.60 92.1L483.10 89.4L483.30 87.4L483.60 89.4L484.10 91.9L484.60 92.4L485.10 92.1L485.60 91.6L486.10 89.3L486.30 88.4L486.60 89.5L487.10 89.3L487.60 90.1L487.90 88.4L488.10 90.2L488.60 91.5L489.10 91.2L489.60 90.2L490.10 89.9L490.40 87.9L490.60 87.9L491.10 89.7L491.60 88.1L492.10 87.7L492.60 86.5L493.10 84.1L493.60 85.4L494.10 83.8L494.50 76.1L494.60 81.3L495.10 77.7L495.60 81.5L496.10 76.5L496.60 75.8L497.00 72.0L497.10 79.0L497.60 78.7L498.10 72.0L498.60 90.3L499.10 91.5L499.60 91.6L500.10 88.7L500.60 77.1L500.70 72.0L501.10 73.0L501.60 74.1L501.70 72.0L502.10 74.6L502.60 82.2L503.10 84.1L503.60 80.2L503.70 77.7L504.10 80.4L504.60 83.2L505.10 83.3L505.60 82.4L505.80 81.2L506.10 83.2L506.60 85.6L507.10 86.3L507.60 84.4L507.80 78.7L508.10 80.9L508.60 78.8L508.80 78.7L509.10 83.1L509.60 83.2L510.10 85.4L510.60 83.8L511.10 80.8L511.40 76.1L511.60 76.1L511.90 76.1L512.10 84.8L512.60 88.5L513.10 90.0L513.60 91.3L514.10 90.0L514.60 89.0L515.10 88.3L515.50 87.4L515.60 88.5L516.10 91.1L516.60 89.6L517.00 87.4L517.10 89.8L517.60 90.5L518.10 92.4L518.60 92.6L519.10 91.0L519.60 86.1L520.00 77.1L520.10 77.2L520.60 77.8L521.10 77.2L521.60 79.3L522.10 76.5L522.60 79.9L523.10 79.6L523.60 73.0L524.10 73.4L524.60 72.6L525.10 75.3L525.60 73.9L526.10 81.1L526.60 77.6L527.10 78.2L527.60 77.4L528.10 74.8L528.20 73.6L528.60 77.3L529.10 78.2L529.60 79.7L530.10 80.0L530.60 80.5L531.10 80.0L531.60 82.7L532.10 84.0L532.60 88.3L533.10 83.4L533.40 79.2L533.60 80.9L534.10 80.1L534.60 80.3L535.10 82.3L535.60 80.3L536.10 82.6L536.60 83.6L537.10 84.1L537.40 80.2L537.60 81.3L538.10 89.4L538.60 90.2L539.10 89.9L539.60 89.5L540.10 90.8L540.60 90.4L541.10 91.1L541.60 90.2L542.10 90.8L542.20 89.2L542.60 91.2L543.10 92.8L543.60 92.6L544.10 92.4L544.60 92.3L545.10 92.3L545.60 93.0L546.10 89.6L546.20 88.7L546.60 89.9L547.10 88.9L547.30 88.7L547.60 90.7L548.10 93.1L548.60 92.9L549.10 91.4L549.60 82.3L549.80 72.8L550.10 74.9L550.60 72.8L551.10 78.2L551.30 72.8L551.60 80.9L552.10 84.5L552.60 75.7L552.90 75.4L553.10 83.1L553.60 83.8L554.10 82.0L554.60 81.7L555.10 82.3L555.40 81.5L555.60 85.1L556.10 88.7L556.60 90.8L557.10 88.7L557.60 78.0L558.00 69.3L558.10 74.5L558.60 77.1L559.10 73.7L559.50 69.3L559.60 71.3L560.10 74.8L560.60 78.1L561.10 78.1L561.60 74.8L562.10 73.2L562.60 77.2L563.10 74.0L563.60 76.7L564.10 71.6L564.60 68.8L565.10 78.6L565.60 80.0L566.10 74.3L566.60 74.4L567.10 75.5L567.60 78.8L568.10 77.3L568.60 75.9L569.10 79.8L569.60 78.4L570.10 79.2L570.60 82.5L571.10 79.7L571.60 80.7L572.10 81.7L572.60 80.0L573.10 79.8L573.60 82.7L574.10 78.6L574.50 78.0L574.60 78.8L575.10 81.0L575.60 83.2L576.10 85.9L576.60 84.2L577.10 87.0L577.60 85.5L578.10 86.1L578.60 86.6L579.10 90.8L579.60 89.3L580.10 91.6L580.60 91.0L581.10 90.8L581.50 84.6L581.60 87.2L582.10 85.1L582.60 87.6L583.10 84.7L583.60 87.8L584.00 84.6L584.10 87.4L584.60 87.8L585.10 88.8L585.60 89.1L586.10 86.1L586.60 82.1L587.10 83.9L587.60 82.1L588.10 85.8L588.60 85.4L589.10 87.0L589.60 85.7L590.10 85.6L590.60 86.3L591.10 85.4L591.60 86.7L592.10 85.3L592.60 88.0L593.10 86.7L593.60 87.4L594.10 87.2L594.60 86.9L595.10 89.3L595.60 87.0L596.10 85.1L596.30 82.1L596.60 83.4L597.10 83.1L597.60 84.3L598.10 82.4L598.60 82.4L599.10 83.4L599.60 83.7L600.10 85.3L600.60 83.2L601.10 83.8L601.60 83.6L602.10 83.4L602.60 84.9L602.70 82.3L603.10 88.8L603.60 89.0L604.10 89.1L604.60 89.2L605.10 84.2L605.50 77.9L605.60 80.4L606.10 82.2L606.60 77.9L607.10 85.9L607.60 86.4L608.10 86.0L608.60 85.5L609.10 86.9L609.60 86.0L610.10 88.8L610.60 88.3L611.10 88.1L611.60 90.1L612.10 90.1L612.60 91.3L613.10 93.1L613.60 90.6L614.10 87.9L614.60 88.0L615.10 86.4L615.60 88.1L616.10 87.3L616.60 88.0L617.10 87.2L617.60 86.1L618.10 83.5L618.60 63.8L619.10 67.3L619.60 63.0L619.70 55.5L620.10 56.3L620.60 59.4L620.80 55.5L621.10 77.9L621.60 88.9L622.10 80.4L622.40 69.2L622.60 69.9L623.10 75.1L623.60 75.7L624.10 61.0L624.60 61.0L625.10 70.0L625.60 75.3L625.70 69.8L626.10 83.9L626.60 86.7L627.10 86.3L627.60 87.3L628.10 84.0L628.60 87.2L629.00 83.9L629.10 87.2L629.60 91.4L630.10 67.5L630.60 76.5L631.10 71.6L631.60 72.7L631.80 67.5L632.10 87.9L632.60 85.2L633.10 72.5L633.40 55.5L633.60 62.6L634.10 56.4L634.50 55.5L634.60 61.8L635.10 67.0L635.60 66.6L636.10 64.2L636.60 81.3L637.10 84.5L637.60 83.1L638.10 85.8L638.60 80.0L639.10 76.0L639.40 58.8L639.60 67.1L640.10 70.0L640.60 66.5L640.70 58.8L641.10 70.9L641.60 81.3L642.10 81.6L642.60 77.9L643.10 77.8L643.20 75.8L643.60 84.3L644.10 91.2L644.60 82.2L644.90 69.2L645.10 70.3L645.60 70.2L646.10 71.8L646.50 60.4L646.60 60.7L647.10 65.4L647.60 65.8L648.10 69.4L648.20 57.1L648.60 81.0L649.10 65.7L649.30 57.1L649.60 63.5L650.10 75.7L650.60 80.7L651.10 79.6L651.60 78.9L652.10 63.6L652.60 45.1L653.10 45.1L653.60 53.6L653.90 45.1L654.10 56.5L654.60 58.2L655.00 48.4L655.10 60.9L655.60 89.1L656.10 87.5L656.40 57.1L656.60 58.4L657.10 63.1L657.60 77.8L658.10 57.6L658.60 57.1L659.10 84.8L659.60 83.4L660.10 83.7L660.60 85.7L661.10 86.1L661.30 83.4L661.60 87.1L662.10 90.9L662.60 91.8L663.10 85.2L663.50 62.0L663.60 67.9L664.10 68.3L664.60 62.0L665.10 85.2L665.60 85.1L666.10 84.3L666.60 59.5L666.80 46.8L667.10 62.1L667.60 52.0L668.10 47.1L668.40 46.8L668.60 66.8L669.10 86.0L669.60 87.2L670.10 83.1L670.60 63.1L671.10 63.5L671.60 68.9L671.70 63.1L672.10 75.2L672.3 94.5Z" fill="#0000ff" stroke="#0000ff" stroke-width="0.6" stroke-linejoin="round"/><rect x="442" y="0.6" width="206.6" height="16.8" fill="#fff" stroke="#a8a8a8" stroke-width="0.9"/><rect x="443.3" y="2" width="28" height="14" fill="#0000ff"/><text x="474.5" y="13" font-family='"Liberation Serif", serif' font-weight="bold" font-size="12.15">Proposed Framework (KE-ANN)</text><path d="M406.9 0.6H673" stroke="#000" stroke-width="1.4"/><text x="402" y="97.7" text-anchor="end" font-family='"Liberation Serif", serif' font-weight="bold" font-size="13.5">0.0</text><text x="402" y="72.85" text-anchor="end" font-family='"Liberation Serif", serif' font-weight="bold" font-size="13.5">0.4</text><text x="402" y="47.99" text-anchor="end" font-family='"Liberation Serif", serif' font-weight="bold" font-size="13.5">0.8</text><text x="402" y="23.14" text-anchor="end" font-family='"Liberation Serif", serif' font-weight="bold" font-size="13.5">1.2</text><rect x="407.6" y="104" width="264.7" height="93.3" fill="none" stroke="#000" stroke-width="1.4"/><path d="M407.6 184.86h2.5M672.3 184.86h-2.5M407.6 172.42h4.6M672.3 172.42h-4.6M407.6 159.98h2.5M672.3 159.98h-2.5M407.6 147.54h4.6M672.3 147.54h-4.6M407.6 135.1h2.5M672.3 135.1h-2.5M407.6 122.66h4.6M672.3 122.66h-4.6M407.6 110.22h2.5M672.3 110.22h-2.5M429.66 197.3v-2.5M451.72 197.3v-4.6M473.77 197.3v-2.5M495.83 197.3v-4.6M517.89 197.3v-2.5M539.95 197.3v-4.6M562.01 197.3v-2.5M584.07 197.3v-4.6M606.12 197.3v-2.5M628.18 197.3v-4.6M650.24 197.3v-2.5" stroke="#000" stroke-width="1.3" fill="none"/><path d="M407.6 198.0L407.60 177.3L408.10 180.8L408.60 177.3L409.10 194.1L409.60 194.7L410.10 191.2L410.60 171.3L411.10 173.4L411.60 177.1L412.10 174.3L412.60 174.1L412.70 171.3L413.10 187.9L413.60 181.5L414.10 182.4L414.60 182.6L414.70 176.9L415.10 185.5L415.60 191.1L416.10 176.5L416.20 171.8L416.60 172.1L417.10 172.2L417.30 171.8L417.60 186.9L418.10 187.6L418.60 184.7L419.10 182.6L419.60 182.4L420.10 184.5L420.60 181.3L421.10 182.2L421.60 181.6L421.90 175.3L422.10 177.3L422.60 175.4L423.10 181.8L423.60 177.0L423.90 175.3L424.10 183.2L424.60 186.7L425.10 182.2L425.40 169.7L425.60 170.5L426.10 177.2L426.60 170.0L427.10 186.5L427.50 166.6L427.60 167.6L428.10 168.3L428.50 166.6L428.60 186.9L429.10 178.5L429.60 182.2L430.10 176.9L430.50 176.9L430.60 177.6L431.10 179.6L431.60 181.9L432.10 181.3L432.60 182.2L433.00 179.4L433.10 183.0L433.60 194.3L434.10 194.7L434.60 195.1L435.10 167.2L435.60 167.4L436.10 172.3L436.60 170.0L436.70 167.2L437.10 177.4L437.60 177.7L438.10 181.5L438.60 178.3L439.10 178.2L439.60 177.2L439.70 169.7L440.10 176.5L440.60 169.7L440.80 169.7L441.10 181.1L441.60 183.1L442.10 185.9L442.60 190.3L443.10 183.6L443.60 184.6L444.10 187.2L444.60 193.4L445.10 189.0L445.60 193.7L446.10 194.3L446.60 187.3L446.90 171.3L447.10 177.2L447.60 173.8L447.90 171.3L448.10 173.7L448.60 178.0L449.10 181.9L449.60 181.8L450.10 188.2L450.60 195.0L451.10 194.4L451.60 192.1L452.00 179.4L452.10 180.8L452.60 183.3L453.10 184.3L453.60 179.9L454.10 182.9L454.60 180.1L455.00 179.4L455.10 182.1L455.60 191.1L456.10 185.1L456.60 159.5L457.10 159.8L457.60 159.5L458.10 192.1L458.60 190.5L459.10 194.6L459.60 187.9L460.10 167.2L460.20 163.1L460.60 166.8L461.10 163.5L461.60 168.1L461.70 163.1L462.10 185.8L462.60 192.9L463.10 192.5L463.60 180.0L463.80 171.3L464.10 177.6L464.60 172.4L465.10 178.6L465.30 171.3L465.60 172.6L466.10 178.6L466.60 175.0L467.10 175.5L467.60 187.2L468.10 178.4L468.40 174.8L468.60 180.3L469.10 181.0L469.60 179.8L470.10 177.6L470.60 178.7L471.10 179.1L471.60 181.8L472.10 181.9L472.60 180.7L473.10 178.3L473.60 179.2L474.10 181.5L474.60 178.9L475.10 182.7L475.60 180.8L476.10 194.3L476.60 194.1L477.10 185.7L477.60 170.7L477.70 167.2L478.10 187.5L478.60 173.0L479.10 169.2L479.20 167.2L479.60 172.8L480.10 182.8L480.60 181.2L481.10 183.6L481.60 189.0L482.10 181.9L482.60 184.6L483.10 186.8L483.60 183.9L484.10 181.3L484.60 181.9L485.10 177.4L485.30 174.8L485.60 174.8L486.10 179.1L486.60 176.2L487.10 175.9L487.60 176.3L488.10 175.3L488.40 174.8L488.60 180.8L489.10 185.8L489.60 186.7L490.10 183.5L490.60 184.9L491.10 183.7L491.60 189.6L492.10 183.4L492.50 183.0L492.60 185.9L493.10 188.5L493.60 187.7L494.10 191.0L494.60 192.6L495.10 193.3L495.60 191.4L496.00 173.3L496.10 179.1L496.60 177.0L497.00 173.3L497.10 179.2L497.60 190.3L498.00 176.9L498.10 179.8L498.60 180.0L499.10 180.2L499.60 180.7L500.10 177.0L500.60 178.2L501.10 179.4L501.60 178.4L502.10 176.5L502.60 172.9L502.70 166.1L503.10 174.8L503.60 167.1L504.10 175.2L504.20 166.1L504.60 180.3L505.10 177.0L505.60 182.1L506.10 176.0L506.30 170.7L506.60 171.9L507.10 177.4L507.60 170.7L508.10 172.4L508.60 184.8L508.80 170.7L509.10 180.8L509.60 178.0L510.10 177.6L510.60 177.9L510.90 167.2L511.10 171.5L511.60 167.6L512.10 173.0L512.40 167.2L512.60 172.7L513.10 187.7L513.60 186.9L514.10 177.0L514.60 177.0L515.10 175.4L515.50 174.8L515.60 180.1L516.10 186.6L516.60 184.7L517.00 176.9L517.10 177.0L517.60 182.7L518.10 180.4L518.60 178.7L519.10 179.6L519.60 178.8L520.00 176.9L520.10 181.8L520.60 187.7L521.10 187.6L521.60 188.3L522.10 188.6L522.60 189.8L523.10 165.6L523.60 166.4L524.10 165.7L524.60 165.8L524.70 165.6L525.10 191.6L525.60 196.4L526.10 195.3L526.60 168.0L526.70 161.0L527.10 161.4L527.60 167.7L528.10 164.3L528.60 166.6L528.80 161.0L529.10 180.9L529.60 178.4L530.10 179.2L530.30 171.8L530.60 177.8L531.10 177.0L531.60 182.1L532.10 181.2L532.60 190.0L533.10 174.0L533.40 171.3L533.60 172.8L534.10 177.6L534.60 174.6L535.10 178.4L535.60 177.5L536.10 171.5L536.60 171.5L537.10 176.0L537.60 173.2L538.00 171.3L538.10 175.3L538.60 174.6L539.10 175.7L539.60 182.4L540.10 178.2L540.60 180.3L541.10 179.8L541.60 178.0L542.10 179.5L542.30 175.3L542.60 177.1L543.10 181.9L543.60 180.2L544.10 184.0L544.60 185.8L545.10 183.0L545.60 185.3L546.10 184.0L546.60 183.5L547.10 182.8L547.60 180.9L548.10 181.8L548.60 180.9L549.10 187.1L549.60 171.2L550.00 158.4L550.10 166.8L550.60 163.1L551.00 158.4L551.10 163.7L551.60 187.8L552.10 191.8L552.60 191.7L553.10 192.0L553.60 192.7L554.10 187.2L554.60 174.8L555.10 187.3L555.60 192.6L556.10 193.6L556.60 192.5L557.10 193.8L557.60 181.9L558.10 161.9L558.60 163.5L559.10 163.9L559.30 161.9L559.60 163.5L560.10 164.8L560.60 166.3L561.10 179.5L561.60 167.0L562.10 166.1L562.60 167.5L563.10 181.7L563.60 165.5L564.00 164.3L564.10 167.2L564.60 164.4L565.10 164.3L565.60 168.6L566.10 168.6L566.60 170.1L567.10 169.8L567.60 169.8L568.10 170.2L568.60 169.0L569.10 170.0L569.60 170.3L570.10 171.8L570.40 168.9L570.60 169.8L571.10 174.3L571.60 174.7L572.10 173.2L572.60 174.3L573.10 174.5L573.60 175.4L574.10 173.6L574.60 183.8L575.00 168.9L575.10 170.2L575.60 174.3L576.10 173.8L576.60 174.2L577.10 176.2L577.60 175.0L578.10 175.7L578.50 174.2L578.60 175.6L579.10 176.9L579.60 180.0L580.10 179.8L580.60 180.7L581.10 178.6L581.50 174.2L581.60 174.5L582.10 176.1L582.60 176.1L583.10 188.6L583.60 174.7L583.80 174.2L584.10 175.3L584.60 176.7L585.10 177.5L585.60 177.8L586.10 175.0L586.60 173.7L586.70 172.4L587.10 172.4L587.60 173.4L587.90 172.4L588.10 174.3L588.60 174.2L589.10 176.0L589.60 177.2L590.10 176.5L590.60 177.3L591.10 177.3L591.60 174.8L592.10 173.6L592.60 172.4L593.10 174.2L593.60 174.8L594.10 176.8L594.60 176.4L595.10 175.3L595.60 176.1L596.10 176.4L596.60 174.4L597.10 174.4L597.20 171.3L597.60 172.1L598.10 172.1L598.60 172.2L599.10 171.8L599.60 172.7L600.10 172.3L600.60 174.2L601.10 172.6L601.60 174.3L601.90 171.3L602.10 173.2L602.60 177.1L603.10 178.2L603.60 175.6L604.10 171.5L604.60 169.0L604.80 165.4L605.10 166.1L605.60 165.5L606.10 186.3L606.60 165.4L607.10 171.5L607.60 171.9L608.10 170.2L608.60 170.4L609.10 171.3L609.60 170.4L610.00 170.1L610.10 172.4L610.60 171.8L611.10 173.1L611.60 174.2L612.10 173.4L612.40 173.0L612.60 174.1L613.10 177.6L613.60 178.3L614.10 184.5L614.60 180.4L615.10 180.7L615.60 180.1L616.10 181.1L616.60 181.6L617.10 179.3L617.60 179.3L617.70 177.1L618.10 184.9L618.60 190.7L619.10 193.6L619.60 191.0L620.00 172.3L620.10 173.8L620.60 180.8L621.10 178.8L621.60 180.0L622.10 171.9L622.50 140.3L622.60 157.4L623.10 145.1L623.60 164.1L624.10 143.1L624.60 147.0L625.00 140.3L625.10 153.3L625.60 173.6L626.10 192.4L626.60 194.3L627.10 192.3L627.60 193.7L628.10 194.0L628.60 191.4L629.00 185.3L629.10 190.0L629.60 188.3L630.10 185.7L630.60 185.7L631.10 187.6L631.60 192.8L632.10 185.5L632.60 189.6L633.10 187.6L633.60 187.9L634.10 185.7L634.60 185.9L635.00 185.3L635.10 188.0L635.60 187.2L636.10 185.7L636.60 177.5L637.10 160.9L637.20 157.3L637.60 169.4L638.10 188.2L638.60 189.9L639.10 190.9L639.60 190.8L640.10 187.5L640.60 190.0L641.10 188.7L641.60 190.4L642.10 191.2L642.60 188.6L643.10 188.1L643.60 181.9L644.10 174.6L644.30 171.8L644.60 181.2L645.10 183.0L645.60 190.2L646.10 186.1L646.60 186.0L647.10 188.0L647.60 188.8L648.10 185.4L648.60 187.5L649.10 189.5L649.60 186.3L650.10 183.2L650.50 167.7L650.60 170.6L651.10 179.8L651.60 173.9L652.00 167.7L652.10 172.7L652.60 180.1L653.10 190.8L653.60 187.3L654.10 190.7L654.60 186.5L655.10 160.2L655.20 153.3L655.60 182.2L656.10 195.3L656.60 194.7L657.10 194.3L657.60 195.3L658.10 179.2L658.60 155.3L659.10 163.7L659.60 163.9L660.10 161.7L660.60 160.9L661.10 155.8L661.60 158.5L661.70 155.3L662.10 165.4L662.60 170.8L663.10 175.6L663.60 180.4L664.10 173.5L664.60 172.7L665.10 177.3L665.60 183.0L665.80 172.3L666.10 180.2L666.60 185.6L667.10 183.3L667.60 183.5L668.10 188.7L668.60 186.6L669.10 184.1L669.60 167.9L670.00 136.3L670.10 144.4L670.60 155.3L671.10 142.2L671.50 136.3L671.60 146.9L672.10 167.5L672.3 198.0Z" fill="#ff8000" stroke="#ff8000" stroke-width="0.6" stroke-linejoin="round"/><rect x="444.1" y="104" width="194.2" height="16.8" fill="#fff" stroke="#a8a8a8" stroke-width="0.9"/><rect x="445.4" y="105.4" width="28" height="14" fill="#ff8000"/><text x="476.6" y="116.4" font-family='"Liberation Serif", serif' font-weight="bold" font-size="12.15">Proposed Framework (NARX)</text><path d="M406.9 104H673" stroke="#000" stroke-width="1.4"/><text x="402" y="201.2" text-anchor="end" font-family='"Liberation Serif", serif' font-weight="bold" font-size="13.5">0.0</text><text x="402" y="176.32" text-anchor="end" font-family='"Liberation Serif", serif' font-weight="bold" font-size="13.5">0.4</text><text x="402" y="151.44" text-anchor="end" font-family='"Liberation Serif", serif' font-weight="bold" font-size="13.5">0.8</text><text x="402" y="126.56" text-anchor="end" font-family='"Liberation Serif", serif' font-weight="bold" font-size="13.5">1.2</text><rect x="407.6" y="201.8" width="264.7" height="93.8" fill="none" stroke="#000" stroke-width="1.4"/><path d="M407.6 283.09h2.5M672.3 283.09h-2.5M407.6 270.59h4.6M672.3 270.59h-4.6M407.6 258.08h2.5M672.3 258.08h-2.5M407.6 245.57h4.6M672.3 245.57h-4.6M407.6 233.07h2.5M672.3 233.07h-2.5M407.6 220.56h4.6M672.3 220.56h-4.6M407.6 208.05h2.5M672.3 208.05h-2.5M429.66 295.6v-2.5M451.72 295.6v-4.6M473.77 295.6v-2.5M495.83 295.6v-4.6M517.89 295.6v-2.5M539.95 295.6v-4.6M562.01 295.6v-2.5M584.07 295.6v-4.6M606.12 295.6v-2.5M628.18 295.6v-4.6M650.24 295.6v-2.5" stroke="#000" stroke-width="1.3" fill="none"/><path d="M407.6 296.3L407.60 276.2L408.00 268.6L408.10 272.4L408.60 272.7L409.10 269.8L409.60 269.5L410.10 268.6L410.60 268.7L411.00 268.6L411.10 271.5L411.60 282.8L412.10 291.1L412.60 291.5L413.10 291.1L413.60 291.3L414.10 292.5L414.60 283.4L415.10 283.8L415.60 283.5L416.10 280.7L416.60 284.6L417.10 289.6L417.60 279.8L418.10 281.9L418.60 279.9L419.00 277.9L419.10 279.1L419.60 280.7L420.10 280.5L420.60 279.7L421.10 284.0L421.60 283.0L422.10 289.4L422.60 283.9L423.10 282.4L423.60 283.7L424.10 286.8L424.60 290.7L425.10 289.7L425.60 290.3L426.10 288.5L426.60 285.9L427.00 274.9L427.10 275.3L427.60 278.3L428.10 280.9L428.60 277.4L429.10 278.8L429.60 274.9L430.10 282.7L430.60 281.9L431.10 283.9L431.60 283.7L432.10 283.1L432.60 282.8L433.10 281.7L433.60 279.6L434.10 286.7L434.60 288.9L435.10 273.9L435.50 261.6L435.60 262.2L436.10 264.1L436.60 262.0L437.10 264.3L437.50 261.6L437.60 270.4L438.10 276.9L438.60 278.4L439.10 279.2L439.60 276.6L440.10 277.7L440.60 277.0L441.10 276.7L441.50 276.6L441.60 278.9L442.10 288.4L442.60 292.8L443.10 293.0L443.60 293.1L444.10 293.3L444.60 292.3L445.10 285.9L445.40 281.6L445.60 283.1L446.10 282.0L446.60 283.4L447.10 283.9L447.60 284.8L448.10 285.0L448.60 282.9L449.10 283.8L449.60 285.4L450.10 284.3L450.60 285.1L451.10 283.8L451.30 281.6L451.60 284.0L452.10 284.6L452.60 288.5L453.10 284.3L453.60 284.5L454.10 284.2L454.60 286.5L455.10 284.5L455.60 282.7L456.10 288.7L456.60 271.7L456.80 260.1L457.10 267.0L457.60 275.7L458.10 281.4L458.60 282.2L459.10 283.4L459.60 280.7L460.10 281.9L460.60 277.7L461.10 268.4L461.60 256.8L462.10 266.1L462.60 263.7L463.10 276.6L463.60 269.1L464.10 270.8L464.60 265.4L465.10 270.5L465.60 269.5L466.10 281.7L466.60 269.0L467.10 265.0L467.60 270.0L468.00 264.1L468.10 267.9L468.60 272.4L469.10 283.1L469.60 272.7L470.10 276.9L470.60 273.2L471.10 274.9L471.60 272.3L472.10 274.7L472.60 278.4L473.00 271.9L473.10 273.2L473.60 281.5L474.10 280.2L474.60 283.2L475.10 278.9L475.60 282.5L476.10 279.5L476.60 283.6L477.10 278.5L477.60 275.1L478.10 272.9L478.30 262.6L478.60 267.7L479.10 279.7L479.60 282.0L480.10 283.1L480.60 284.6L481.10 283.7L481.60 282.0L482.10 283.6L482.60 282.7L483.10 282.4L483.60 282.1L484.10 284.3L484.60 276.7L484.80 274.9L485.10 277.6L485.60 275.0L486.10 276.3L486.60 275.0L487.10 279.5L487.60 275.2L488.10 279.6L488.60 276.1L488.80 274.9L489.10 277.6L489.60 282.2L490.10 279.8L490.60 283.5L491.10 282.6L491.60 286.2L492.10 287.5L492.60 288.8L493.10 288.4L493.60 293.8L494.10 292.7L494.60 293.2L495.10 293.1L495.60 293.0L496.10 287.1L496.60 280.8L497.10 281.4L497.60 285.0L498.10 282.1L498.60 281.7L499.10 282.6L499.60 284.7L500.10 281.7L500.60 286.7L501.10 285.1L501.60 283.2L502.10 280.9L502.60 280.8L503.10 288.7L503.60 291.6L504.10 291.7L504.60 291.3L505.10 291.7L505.60 273.5L506.00 256.2L506.10 256.7L506.60 259.8L507.10 262.4L507.60 266.6L508.10 256.6L508.60 257.0L509.10 261.4L509.60 283.2L510.10 268.0L510.60 264.9L511.10 262.6L511.60 263.5L512.10 259.6L512.40 256.2L512.60 268.5L513.10 272.5L513.60 280.2L514.10 278.6L514.60 279.7L515.10 281.6L515.60 287.3L516.10 277.4L516.30 276.6L516.60 278.4L517.10 283.7L517.60 282.4L518.10 284.3L518.60 284.5L519.10 281.5L519.60 282.1L520.10 282.3L520.30 280.8L520.60 283.8L521.10 293.2L521.60 290.9L522.10 292.8L522.60 291.7L523.10 287.4L523.60 268.9L523.80 261.6L524.10 275.6L524.60 287.3L525.10 293.8L525.60 293.6L526.10 290.9L526.60 276.0L527.00 259.1L527.10 266.7L527.60 268.7L528.10 282.7L528.60 266.0L529.10 259.3L529.60 260.5L530.10 281.4L530.60 283.0L531.10 258.3L531.60 260.3L531.70 250.9L532.10 257.0L532.60 256.0L533.10 259.0L533.60 258.8L534.10 267.2L534.60 268.0L535.10 262.3L535.60 266.1L536.10 260.9L536.60 280.8L537.10 269.4L537.60 271.4L538.10 271.8L538.60 268.9L539.10 275.8L539.60 275.5L540.10 276.2L540.60 276.3L541.10 273.7L541.60 273.6L542.10 276.7L542.60 279.7L543.10 277.3L543.60 278.0L544.10 278.0L544.60 283.7L545.10 286.9L545.60 285.9L546.10 283.0L546.60 282.6L547.10 283.2L547.60 281.2L548.10 282.1L548.60 282.6L549.10 280.0L549.60 271.3L550.00 256.6L550.10 261.7L550.60 259.5L551.10 268.2L551.60 267.6L551.70 256.6L552.10 281.5L552.60 285.0L553.10 273.4L553.60 266.6L554.00 257.6L554.10 259.5L554.60 260.1L555.10 261.2L555.20 257.6L555.60 271.1L556.10 271.8L556.60 270.2L557.10 265.1L557.50 243.0L557.60 259.5L558.10 243.9L558.60 247.5L558.70 243.0L559.10 246.7L559.60 244.8L560.10 247.2L560.60 267.2L561.10 247.0L561.60 242.4L562.10 244.0L562.60 240.1L563.10 241.1L563.60 240.3L564.10 242.2L564.50 237.8L564.60 242.2L565.10 243.8L565.60 240.2L566.10 244.5L566.60 245.8L567.10 246.4L567.60 248.1L568.10 244.9L568.60 250.0L569.10 247.8L569.60 251.1L570.10 248.4L570.60 250.5L571.10 250.3L571.60 250.9L572.10 252.6L572.60 253.1L573.10 251.5L573.60 255.3L574.10 251.9L574.60 254.4L575.10 255.8L575.60 258.2L576.10 260.1L576.60 258.5L577.10 260.6L577.60 262.6L578.10 265.2L578.60 264.3L579.10 264.9L579.60 268.0L580.10 267.8L580.60 265.7L581.10 264.3L581.60 261.4L582.10 262.2L582.60 261.8L583.10 260.4L583.60 262.8L584.10 261.0L584.60 260.0L585.10 258.1L585.60 259.9L586.10 271.8L586.60 257.4L587.10 255.3L587.30 253.0L587.60 254.3L588.10 256.6L588.60 255.8L589.10 256.8L589.60 260.3L590.10 270.7L590.60 261.1L591.10 282.6L591.60 259.4L592.10 260.5L592.60 274.8L593.10 260.1L593.60 260.1L594.10 258.4L594.60 256.9L595.10 256.5L595.60 255.8L596.10 274.0L596.60 267.8L597.10 254.9L597.60 254.5L598.10 256.5L598.60 254.2L599.10 253.9L599.60 252.5L600.10 254.0L600.60 252.6L600.70 251.2L601.10 252.7L601.60 254.1L602.10 254.6L602.60 256.6L603.10 257.2L603.60 272.2L604.10 256.3L604.60 258.0L605.10 256.2L605.60 254.0L606.00 248.9L606.10 249.3L606.60 252.5L607.10 252.4L607.60 254.1L608.10 252.9L608.60 256.5L609.10 255.6L609.60 256.9L610.10 259.3L610.60 261.7L611.10 262.9L611.60 264.1L612.10 264.5L612.60 266.2L613.10 268.7L613.60 272.7L614.10 273.5L614.60 275.8L615.10 279.4L615.60 280.6L616.10 284.4L616.60 286.0L617.10 289.8L617.60 291.0L618.10 292.8L618.60 294.5L619.10 290.2L619.60 274.8L619.80 262.6L620.10 286.3L620.60 284.6L621.10 285.7L621.60 286.8L622.10 286.6L622.60 285.8L623.10 281.7L623.60 262.3L624.00 244.1L624.10 254.4L624.60 244.2L625.00 244.1L625.10 261.0L625.60 262.1L626.10 275.0L626.60 270.5L627.10 276.9L627.60 270.7L628.10 269.1L628.60 272.5L629.00 269.0L629.10 271.9L629.60 280.3L630.10 288.4L630.60 289.6L631.10 288.2L631.60 287.7L632.10 288.5L632.60 289.1L633.10 288.5L633.60 279.7L634.00 270.1L634.10 271.8L634.60 282.4L635.10 285.7L635.60 285.6L636.10 285.9L636.60 286.1L637.10 284.8L637.60 267.0L638.10 279.0L638.60 285.6L639.10 284.6L639.60 283.1L640.10 284.1L640.60 284.2L641.10 285.4L641.60 281.6L642.10 284.6L642.60 284.7L643.10 281.4L643.60 283.3L644.10 283.0L644.60 282.3L645.00 278.6L645.10 279.8L645.60 279.2L646.10 282.8L646.60 281.1L647.10 280.0L647.60 279.6L648.10 279.6L648.60 274.1L649.00 271.1L649.10 275.4L649.60 279.9L650.10 282.6L650.60 282.0L651.10 280.6L651.60 282.3L652.10 281.5L652.60 278.1L653.10 268.0L653.50 251.1L653.60 261.9L654.10 272.4L654.60 272.8L655.10 276.0L655.60 270.4L656.10 274.8L656.60 273.3L657.10 276.2L657.60 287.4L658.10 271.5L658.60 277.5L659.10 274.9L659.60 270.2L660.00 270.1L660.10 271.3L660.60 272.9L661.10 274.2L661.60 276.2L662.10 270.7L662.60 275.8L663.10 273.2L663.60 273.3L664.10 270.2L664.60 276.0L665.10 277.7L665.60 276.9L665.80 270.1L666.10 277.4L666.60 285.7L667.10 280.5L667.60 282.0L668.10 274.1L668.60 270.1L669.00 266.0L669.10 274.0L669.60 278.7L670.10 284.9L670.60 279.4L671.00 247.6L671.10 259.0L671.60 258.6L672.10 267.6L672.3 296.3Z" fill="#008000" stroke="#008000" stroke-width="0.6" stroke-linejoin="round"/><rect x="454.6" y="201.8" width="169.4" height="16.8" fill="#fff" stroke="#a8a8a8" stroke-width="0.9"/><rect x="455.9" y="203.2" width="28" height="14" fill="#008000"/><text x="487.1" y="214.2" font-family='"Liberation Serif", serif' font-weight="bold" font-size="12.15">Conventional Framework</text><path d="M406.9 201.8H673" stroke="#000" stroke-width="1.4"/><text x="402" y="299.5" text-anchor="end" font-family='"Liberation Serif", serif' font-weight="bold" font-size="13.5">0.0</text><text x="402" y="274.49" text-anchor="end" font-family='"Liberation Serif", serif' font-weight="bold" font-size="13.5">0.4</text><text x="402" y="249.47" text-anchor="end" font-family='"Liberation Serif", serif' font-weight="bold" font-size="13.5">0.8</text><text x="402" y="224.46" text-anchor="end" font-family='"Liberation Serif", serif' font-weight="bold" font-size="13.5">1.2</text><text x="407.6" y="311.2" text-anchor="middle" font-family='"Liberation Serif", serif' font-weight="bold" font-size="13.5">850</text><text x="451.72" y="311.2" text-anchor="middle" font-family='"Liberation Serif", serif' font-weight="bold" font-size="13.5">900</text><text x="495.83" y="311.2" text-anchor="middle" font-family='"Liberation Serif", serif' font-weight="bold" font-size="13.5">950</text><text x="539.95" y="311.2" text-anchor="middle" font-family='"Liberation Serif", serif' font-weight="bold" font-size="13.5">1000</text><text x="584.07" y="311.2" text-anchor="middle" font-family='"Liberation Serif", serif' font-weight="bold" font-size="13.5">1050</text><text x="628.18" y="311.2" text-anchor="middle" font-family='"Liberation Serif", serif' font-weight="bold" font-size="13.5">1100</text><text x="672.3" y="311.2" text-anchor="middle" font-family='"Liberation Serif", serif' font-weight="bold" font-size="13.5">1150</text><text x="539.95" y="337.4" text-anchor="middle" font-family='"Liberation Serif", serif' font-weight="bold" font-size="21.8">Time (s)</text><text transform="translate(377.8,146.4) rotate(-90)" x="0" y="0" text-anchor="middle" font-family='"Liberation Serif", serif' font-weight="bold" font-size="22.3">Residual error (%)</text><rect x="35.2" y="412.6" width="264.2" height="93.2" fill="none" stroke="#000" stroke-width="1.4"/><path d="M35.2 492.49h2.5M299.4 492.49h-2.5M35.2 479.17h4.6M299.4 479.17h-4.6M35.2 465.86h2.5M299.4 465.86h-2.5M35.2 452.54h4.6M299.4 452.54h-4.6M35.2 439.23h2.5M299.4 439.23h-2.5M35.2 425.91h4.6M299.4 425.91h-4.6M51.71 505.8v-4.6M68.22 505.8v-2.5M84.74 505.8v-4.6M101.25 505.8v-2.5M117.76 505.8v-4.6M134.28 505.8v-2.5M150.79 505.8v-4.6M167.3 505.8v-2.5M183.81 505.8v-4.6M200.32 505.8v-2.5M216.84 505.8v-4.6M233.35 505.8v-2.5M249.86 505.8v-4.6M266.38 505.8v-2.5M282.89 505.8v-4.6" stroke="#000" stroke-width="1.3" fill="none"/><path d="M77.2 506.5L77.20 504.6L77.70 505.1L78.20 504.2L78.50 504.0L78.70 504.3L79.20 505.2L79.70 504.8L80.20 504.6L80.70 504.5L81.00 503.8L81.20 504.1L81.70 504.7L82.20 505.2L82.70 505.4L83.20 505.3L83.70 505.3L84.20 505.3L84.70 505.3L85.20 505.3L85.70 505.4L86.20 505.3L86.70 505.3L87.20 505.3L87.70 505.3L88.10 502.2L88.20 502.2L88.70 502.9L89.20 502.2L89.70 503.3L90.20 503.4L90.70 503.3L91.20 503.3L91.70 504.3L91.80 501.1L92.20 503.1L92.70 504.8L93.20 503.7L93.70 503.9L94.20 503.9L94.70 503.8L95.20 502.8L95.70 501.4L95.80 499.2L96.20 500.1L96.50 499.2L96.70 501.6L97.20 502.7L97.70 502.1L98.20 502.4L98.70 502.8L99.20 502.3L99.70 502.4L100.20 500.3L100.70 501.5L101.20 501.4L101.70 500.9L102.20 502.9L102.70 497.4L103.20 497.5L103.50 497.4L103.70 499.7L104.20 500.8L104.70 500.7L105.20 500.3L105.70 500.8L106.20 498.0L106.70 492.7L107.20 500.0L107.70 487.9L108.20 475.5L108.60 475.5L108.70 482.4L109.20 489.4L109.70 493.2L110.20 498.7L110.70 500.1L111.20 499.5L111.50 498.1L111.70 501.9L112.20 504.5L112.70 504.7L113.20 501.4L113.70 496.8L114.20 493.3L114.70 492.9L115.20 492.5L115.50 488.3L115.70 489.2L116.20 490.2L116.70 497.7L117.20 499.2L117.70 500.8L118.20 499.3L118.40 493.4L118.70 495.4L119.20 493.4L119.70 501.6L120.20 503.3L120.50 497.4L120.70 497.6L121.20 498.0L121.50 490.8L121.70 493.6L122.20 494.8L122.70 494.2L122.90 490.8L123.20 501.1L123.70 503.1L124.20 502.4L124.70 502.5L125.20 501.0L125.50 499.2L125.70 502.7L126.20 499.4L126.70 499.8L126.90 499.2L127.20 502.4L127.70 503.8L128.20 503.8L128.70 503.3L129.20 502.3L129.50 500.8L129.70 501.1L130.20 501.3L130.70 499.4L131.00 495.9L131.20 496.7L131.70 497.7L132.00 495.9L132.20 497.0L132.70 498.1L133.10 498.1L133.20 501.3L133.70 504.2L134.20 504.2L134.70 503.0L135.00 498.1L135.20 498.8L135.70 498.2L136.20 498.6L136.70 498.7L136.80 498.1L137.20 501.8L137.70 504.7L138.20 504.7L138.70 504.5L139.20 504.5L139.70 503.0L140.00 499.2L140.20 499.5L140.70 499.8L141.20 499.6L141.50 499.2L141.70 502.0L142.20 504.4L142.70 503.9L143.20 504.7L143.70 503.9L144.20 492.3L144.70 494.2L145.20 495.0L145.70 490.6L146.20 494.1L146.70 492.8L147.20 492.2L147.70 490.1L148.20 493.3L148.70 500.6L149.20 495.1L149.70 495.0L150.00 493.8L150.20 496.2L150.70 498.0L151.20 497.9L151.70 496.0L152.20 497.8L152.70 495.8L152.80 495.2L153.20 497.8L153.70 501.7L154.20 501.5L154.70 500.0L155.20 502.0L155.70 501.7L156.20 501.5L156.70 501.7L157.20 501.9L157.70 501.6L158.20 501.8L158.70 501.8L159.20 502.3L159.70 502.5L160.00 501.4L160.20 502.0L160.70 502.4L161.20 503.4L161.70 503.0L162.20 503.5L162.70 503.1L163.20 503.2L163.70 502.2L164.20 502.0L164.70 502.4L165.00 501.2L165.20 501.5L165.70 501.8L166.20 501.5L166.70 501.5L167.20 501.2L167.70 501.6L168.20 501.4L168.60 499.2L168.70 499.4L169.20 499.4L169.70 499.3L170.20 499.5L170.70 499.5L171.20 500.6L171.70 500.2L172.20 500.3L172.70 500.8L173.20 500.3L173.70 499.2L174.20 501.6L174.70 501.6L175.20 499.9L175.70 497.8L176.20 498.5L176.70 498.8L176.80 497.8L177.20 500.3L177.70 500.8L178.20 501.2L178.70 502.3L179.20 500.9L179.70 501.0L179.80 500.2L180.20 501.8L180.70 500.6L181.20 500.4L181.70 501.6L182.20 500.9L182.70 501.5L183.20 501.2L183.70 501.2L184.20 503.2L184.70 500.8L185.20 501.2L185.40 500.2L185.70 502.5L186.20 502.3L186.70 498.4L187.00 495.1L187.20 497.4L187.70 495.2L188.20 495.3L188.70 495.5L189.00 495.1L189.20 498.9L189.70 503.1L190.20 503.5L190.70 501.8L191.00 497.6L191.20 499.0L191.70 499.4L192.20 498.1L192.70 497.6L193.00 493.5L193.20 496.8L193.60 493.5L193.70 497.3L194.20 500.5L194.70 501.2L195.20 500.4L195.70 498.9L196.00 496.1L196.20 497.5L196.70 498.4L197.20 496.5L197.70 498.4L198.20 471.3L198.70 474.0L199.20 471.3L199.70 489.8L200.20 488.4L200.70 496.0L201.20 495.6L201.70 497.8L202.20 498.7L202.70 497.5L202.80 496.6L203.20 498.9L203.70 498.1L204.20 497.8L204.70 498.9L205.20 497.8L205.40 497.1L205.70 501.4L206.20 503.2L206.70 503.4L207.20 502.9L207.70 501.8L208.20 496.7L208.40 494.6L208.70 494.7L209.20 494.7L209.70 497.6L210.00 494.6L210.20 496.5L210.70 497.9L211.20 501.5L211.70 499.5L212.20 499.1L212.70 498.4L213.00 495.1L213.20 495.4L213.70 500.2L214.20 495.1L214.60 495.1L214.70 497.2L215.20 500.2L215.70 501.7L216.20 500.7L216.70 500.3L217.20 501.3L217.70 501.3L218.20 503.8L218.70 500.4L219.20 501.0L219.70 500.7L220.20 501.8L220.70 500.6L221.20 500.5L221.70 501.2L222.00 500.2L222.20 501.0L222.70 503.7L223.20 503.4L223.70 503.2L224.00 500.7L224.20 501.1L224.70 501.3L225.20 502.1L225.70 500.8L226.20 500.7L226.70 501.8L227.20 501.8L227.70 501.0L228.20 500.9L228.70 500.7L229.20 501.9L229.70 502.1L230.20 500.9L230.70 502.5L231.00 498.8L231.20 499.4L231.70 498.9L232.20 499.6L232.70 499.9L233.20 500.3L233.70 498.8L234.20 499.0L234.70 499.1L235.00 498.8L235.20 500.7L235.70 499.5L236.20 499.4L236.70 501.1L237.20 500.2L237.70 503.6L238.20 500.9L238.70 501.9L239.20 501.0L239.70 501.7L240.20 502.2L240.70 501.6L241.20 502.1L241.70 503.0L242.20 501.3L242.70 501.4L243.20 502.1L243.70 504.4L244.20 501.5L244.70 501.2L245.20 501.6L245.70 502.1L246.20 502.1L246.70 501.5L247.20 504.2L247.70 501.5L248.20 502.5L248.70 502.5L249.00 501.2L249.20 502.9L249.70 504.6L250.20 504.4L250.70 503.9L251.20 502.5L251.70 502.2L252.20 499.3L252.70 498.0L253.20 499.3L253.70 496.5L254.20 497.2L254.70 496.2L255.20 496.8L255.40 493.2L255.70 496.0L256.20 501.2L256.70 497.0L257.20 497.7L257.70 499.4L258.20 498.6L258.70 503.4L259.20 500.1L259.70 501.5L260.20 500.1L260.70 500.2L261.20 501.0L261.70 500.0L262.20 500.1L262.70 500.3L263.20 500.0L263.70 500.3L264.20 499.8L264.70 499.8L265.00 499.3L265.20 501.1L265.70 503.3L266.20 503.8L266.70 504.3L267.20 503.9L267.70 504.1L268.20 504.2L268.70 503.9L269.20 503.3L269.70 502.0L270.20 501.9L270.70 500.0L271.00 498.2L271.20 498.8L271.70 498.3L272.20 498.4L272.70 498.4L273.20 500.2L273.70 498.7L274.20 499.8L274.70 500.1L275.20 498.4L275.70 498.4L276.20 499.9L276.70 500.2L277.20 499.2L277.70 499.9L278.20 497.9L278.70 497.5L279.20 496.6L279.70 496.0L280.20 494.8L280.70 494.1L281.20 495.1L281.60 492.2L281.70 493.4L282.20 500.7L282.70 501.9L283.20 501.8L283.70 502.1L284.20 502.8L284.70 501.9L285.20 502.2L285.70 504.2L286.20 502.5L286.70 502.7L287.20 502.0L287.70 502.6L288.20 502.7L288.70 501.9L289.20 502.6L289.70 501.8L290.20 502.5L290.70 502.8L291.20 502.9L291.70 502.6L292.20 502.8L292.70 502.7L293.00 501.8L293.20 502.6L293.70 502.0L294.20 504.4L294.70 503.2L295.20 502.3L295.70 502.3L296.20 502.3L296.70 503.1L297.20 502.9L297.70 501.7L298.00 500.8L298.20 502.4L298.70 502.4L299.20 503.1L299.4 506.5Z" fill="#0000ff" stroke="#0000ff" stroke-width="0.6" stroke-linejoin="round"/><rect x="68.6" y="412.6" width="206.7" height="16.8" fill="#fff" stroke="#a8a8a8" stroke-width="0.9"/><rect x="69.9" y="414" width="28" height="14" fill="#0000ff"/><text x="101.1" y="425" font-family='"Liberation Serif", serif' font-weight="bold" font-size="12.15">Proposed Framework (KE-ANN)</text><path d="M34.5 412.6H300.1" stroke="#000" stroke-width="1.4"/><text x="29.2" y="509.7" text-anchor="end" font-family='"Liberation Serif", serif' font-weight="bold" font-size="13.5">0</text><text x="29.2" y="483.07" text-anchor="end" font-family='"Liberation Serif", serif' font-weight="bold" font-size="13.5">2</text><text x="29.2" y="456.44" text-anchor="end" font-family='"Liberation Serif", serif' font-weight="bold" font-size="13.5">4</text><text x="29.2" y="429.81" text-anchor="end" font-family='"Liberation Serif", serif' font-weight="bold" font-size="13.5">6</text><rect x="35.2" y="516" width="264.2" height="93.3" fill="none" stroke="#000" stroke-width="1.4"/><path d="M35.2 595.97h2.5M299.4 595.97h-2.5M35.2 582.64h4.6M299.4 582.64h-4.6M35.2 569.31h2.5M299.4 569.31h-2.5M35.2 555.99h4.6M299.4 555.99h-4.6M35.2 542.66h2.5M299.4 542.66h-2.5M35.2 529.33h4.6M299.4 529.33h-4.6M51.71 609.3v-4.6M68.22 609.3v-2.5M84.74 609.3v-4.6M101.25 609.3v-2.5M117.76 609.3v-4.6M134.28 609.3v-2.5M150.79 609.3v-4.6M167.3 609.3v-2.5M183.81 609.3v-4.6M200.32 609.3v-2.5M216.84 609.3v-4.6M233.35 609.3v-2.5M249.86 609.3v-4.6M266.38 609.3v-2.5M282.89 609.3v-4.6" stroke="#000" stroke-width="1.3" fill="none"/><path d="M77.3 610.0L77.30 591.3L77.80 591.0L78.30 590.7L78.80 590.6L79.30 590.6L79.80 590.7L80.30 590.6L80.80 590.7L81.30 590.7L81.80 590.3L82.30 590.8L82.80 590.4L83.00 590.1L83.30 590.1L83.80 590.2L84.30 590.5L84.80 590.5L85.30 599.4L85.80 590.4L86.30 591.1L86.80 590.8L87.30 591.0L87.80 591.0L88.10 586.8L88.30 587.4L88.80 589.4L89.30 590.4L89.80 590.8L90.30 589.8L90.80 591.8L91.30 589.9L91.80 585.0L92.30 587.4L92.50 585.0L92.80 591.2L93.30 591.9L93.80 592.4L94.30 589.0L94.80 593.8L95.30 594.7L95.80 596.8L96.30 598.1L96.80 599.6L97.30 600.9L97.80 595.8L98.00 594.1L98.30 596.5L98.80 595.5L99.30 593.8L99.80 596.2L100.30 593.3L100.80 591.7L101.30 591.9L101.80 590.9L102.30 589.4L102.40 585.0L102.80 589.3L103.30 587.2L103.80 585.0L104.30 593.1L104.80 594.6L105.30 607.0L105.80 599.9L106.00 596.3L106.30 597.1L106.80 598.8L107.30 597.4L107.80 603.1L108.30 588.3L108.80 579.8L109.30 558.6L109.80 552.3L110.00 543.9L110.30 564.0L110.80 604.4L111.30 604.4L111.80 600.9L112.20 596.7L112.30 596.8L112.80 597.2L113.30 597.6L113.80 597.3L114.30 597.6L114.80 596.7L115.30 606.0L115.80 598.9L116.20 588.3L116.30 589.1L116.80 591.6L117.30 588.3L117.80 593.4L118.30 596.2L118.80 597.2L119.20 590.8L119.30 593.9L119.80 591.3L120.30 590.9L120.60 590.8L120.80 596.0L121.30 601.2L121.80 598.8L122.30 590.4L122.80 589.0L123.30 585.8L123.80 596.1L124.00 575.1L124.30 580.1L124.80 578.1L125.30 579.4L125.80 578.8L126.30 582.2L126.80 577.1L127.00 575.1L127.30 584.9L127.80 588.4L128.30 589.3L128.40 584.3L128.80 589.2L129.30 590.1L129.80 591.3L130.30 590.9L130.60 586.8L130.80 592.2L131.30 593.9L131.80 594.9L132.30 596.9L132.80 598.9L133.30 605.2L133.80 598.5L134.20 595.3L134.30 595.3L134.80 597.7L135.30 595.7L135.70 595.3L135.80 595.7L136.30 597.1L136.80 597.8L137.30 597.6L137.80 602.7L138.30 597.5L138.80 599.1L139.30 597.2L139.80 596.2L140.30 595.3L140.40 594.8L140.80 597.4L141.30 602.3L141.50 594.8L141.80 600.3L142.30 601.5L142.80 601.0L143.30 600.9L143.80 601.0L144.30 601.6L144.80 601.2L145.30 601.0L145.50 600.7L145.80 602.1L146.30 603.9L146.80 604.0L147.30 604.4L147.80 603.7L148.30 604.1L148.80 600.2L149.20 595.6L149.30 598.0L149.80 596.2L150.30 598.1L150.80 595.9L151.30 596.4L151.80 597.3L152.30 598.1L152.80 595.6L153.30 600.2L153.80 601.5L154.30 602.3L154.80 601.0L155.30 600.9L155.80 602.2L156.30 600.9L156.50 600.7L156.80 603.6L157.30 606.6L157.80 606.6L158.30 606.9L158.80 606.5L159.30 606.9L159.80 605.5L160.00 604.0L160.30 605.1L160.80 604.7L161.30 604.3L161.80 604.5L162.30 604.3L162.80 604.8L163.30 603.7L163.80 602.1L164.30 602.7L164.80 603.0L165.30 603.4L165.80 603.2L166.30 602.1L166.80 602.9L167.30 603.1L167.80 603.3L168.30 602.2L168.80 602.9L169.30 603.5L169.80 605.6L170.00 602.1L170.30 602.6L170.80 602.9L171.30 603.4L171.80 603.5L172.30 605.9L172.80 603.1L173.30 603.7L173.80 604.1L174.30 603.8L174.80 603.9L175.30 603.1L175.80 602.4L176.20 601.1L176.30 603.0L176.80 602.9L177.30 604.2L177.80 603.3L178.30 604.0L178.80 603.2L179.30 603.3L179.80 603.2L180.30 603.4L180.80 603.3L181.30 603.9L181.80 603.8L182.30 603.1L182.80 602.9L182.90 601.1L183.30 603.1L183.80 603.5L184.30 604.0L184.80 603.4L185.30 603.5L185.40 603.2L185.80 605.6L186.30 607.8L186.80 604.1L187.30 602.8L187.80 599.9L188.00 598.1L188.30 598.9L188.80 598.4L189.30 599.7L189.80 598.7L190.00 598.1L190.30 601.9L190.80 607.4L191.30 607.5L191.80 607.6L192.30 605.8L192.80 603.6L193.00 602.1L193.30 602.3L193.80 603.4L194.00 602.1L194.30 604.8L194.80 606.5L195.30 606.3L195.80 603.1L196.30 596.5L196.80 595.2L197.30 591.1L197.80 600.7L198.20 583.3L198.30 588.2L198.80 592.4L199.30 598.6L199.80 602.0L200.30 601.8L200.80 603.3L201.30 601.7L201.80 598.6L202.30 595.4L202.80 593.6L203.30 593.3L203.80 589.3L204.30 592.0L204.80 595.2L205.30 595.1L205.80 596.8L206.30 594.9L206.80 595.0L207.30 601.8L207.80 595.2L208.30 594.2L208.80 592.4L209.30 589.5L209.80 591.9L210.30 587.5L210.50 585.3L210.80 589.2L211.30 590.6L211.80 586.4L212.30 589.1L212.80 590.4L213.30 588.6L213.80 592.5L214.30 591.8L214.80 593.6L215.30 589.9L215.80 591.1L216.30 592.6L216.80 592.8L217.30 602.4L217.80 594.0L218.30 596.5L218.80 602.6L219.00 594.5L219.30 598.7L219.80 599.6L220.30 599.9L220.80 599.5L221.30 603.8L221.80 601.0L222.30 600.1L222.70 595.5L222.80 597.3L223.30 596.4L223.80 598.3L224.30 596.7L224.80 596.9L225.30 597.1L225.80 596.2L226.30 597.1L226.80 597.0L227.30 597.9L227.80 595.6L228.30 603.9L228.80 596.2L229.30 595.6L229.80 598.0L230.30 597.1L230.80 595.5L231.30 595.5L231.80 596.0L232.30 596.6L232.80 596.7L233.30 596.0L233.50 590.9L233.80 594.1L234.30 591.1L234.80 597.9L235.30 591.8L235.60 590.9L235.80 597.0L236.30 599.3L236.80 598.0L237.30 598.9L237.80 598.0L238.30 599.3L238.80 596.4L239.00 595.5L239.30 596.0L239.80 598.2L240.30 596.5L240.80 596.7L241.30 595.9L241.80 597.6L242.30 596.5L242.80 596.0L243.30 594.8L243.80 594.8L244.30 590.9L244.80 591.5L245.30 592.3L245.80 592.1L246.30 594.5L246.80 591.6L247.30 590.9L247.80 596.2L248.30 595.2L248.80 594.8L249.30 595.2L249.80 595.2L250.30 595.5L250.40 591.4L250.80 593.7L251.30 591.8L251.80 594.6L252.30 593.5L252.80 590.6L253.30 588.9L253.80 588.0L254.30 600.1L254.50 581.3L254.80 586.3L255.30 597.0L255.80 601.9L256.30 604.0L256.80 596.8L257.30 590.5L257.50 586.3L257.80 590.4L258.30 586.9L258.80 589.4L259.30 591.1L259.60 586.3L259.80 591.4L260.30 589.6L260.80 588.4L261.30 595.3L261.80 599.7L262.30 588.6L262.80 589.5L263.30 589.3L263.80 590.6L264.30 591.5L264.80 590.6L265.30 588.7L265.80 590.8L266.30 591.2L266.80 591.7L267.30 590.5L267.80 588.1L268.30 589.0L268.80 587.9L269.30 590.3L269.80 590.3L270.00 585.8L270.30 602.6L270.80 588.9L271.30 599.7L271.80 590.4L272.30 591.8L272.80 591.2L273.30 594.5L273.80 593.9L274.30 595.3L274.80 596.4L275.30 597.0L275.80 595.8L276.30 595.6L276.80 592.6L277.30 591.6L277.80 591.1L278.30 592.7L278.80 589.7L279.30 588.4L279.80 588.3L280.30 586.8L280.50 585.3L280.80 596.8L281.30 603.9L281.80 604.0L282.30 602.8L282.80 598.7L283.30 603.0L283.80 597.1L284.30 596.9L284.80 593.3L285.30 593.7L285.80 593.3L286.00 589.3L286.30 591.0L286.80 594.2L287.30 593.1L287.80 593.5L288.30 592.7L288.80 592.5L289.30 591.3L289.80 593.6L290.30 591.5L290.80 600.8L291.30 592.5L291.80 594.2L292.30 594.8L292.80 601.0L293.30 591.6L293.80 592.9L294.30 594.4L294.80 593.7L295.30 592.5L295.40 590.9L295.80 596.2L296.30 595.6L296.80 595.7L297.30 598.2L297.80 597.6L298.30 596.5L298.80 592.8L299.00 590.9L299.30 590.9L299.4 610.0Z" fill="#ff8000" stroke="#ff8000" stroke-width="0.6" stroke-linejoin="round"/><rect x="75.6" y="516" width="194.4" height="16.8" fill="#fff" stroke="#a8a8a8" stroke-width="0.9"/><rect x="76.9" y="517.4" width="28" height="14" fill="#ff8000"/><text x="108.1" y="528.4" font-family='"Liberation Serif", serif' font-weight="bold" font-size="12.15">Proposed Framework (NARX)</text><path d="M34.5 516H300.1" stroke="#000" stroke-width="1.4"/><text x="29.2" y="613.2" text-anchor="end" font-family='"Liberation Serif", serif' font-weight="bold" font-size="13.5">0</text><text x="29.2" y="586.54" text-anchor="end" font-family='"Liberation Serif", serif' font-weight="bold" font-size="13.5">2</text><text x="29.2" y="559.89" text-anchor="end" font-family='"Liberation Serif", serif' font-weight="bold" font-size="13.5">4</text><text x="29.2" y="533.23" text-anchor="end" font-family='"Liberation Serif", serif' font-weight="bold" font-size="13.5">6</text><rect x="35.2" y="614.1" width="264.2" height="93.1" fill="none" stroke="#000" stroke-width="1.4"/><path d="M35.2 693.9h2.5M299.4 693.9h-2.5M35.2 680.6h4.6M299.4 680.6h-4.6M35.2 667.3h2.5M299.4 667.3h-2.5M35.2 654h4.6M299.4 654h-4.6M35.2 640.7h2.5M299.4 640.7h-2.5M35.2 627.4h4.6M299.4 627.4h-4.6M51.71 707.2v-4.6M68.22 707.2v-2.5M84.74 707.2v-4.6M101.25 707.2v-2.5M117.76 707.2v-4.6M134.28 707.2v-2.5M150.79 707.2v-4.6M167.3 707.2v-2.5M183.81 707.2v-4.6M200.32 707.2v-2.5M216.84 707.2v-4.6M233.35 707.2v-2.5M249.86 707.2v-4.6M266.38 707.2v-2.5M282.89 707.2v-4.6" stroke="#000" stroke-width="1.3" fill="none"/><path d="M77.6 707.9L77.60 705.4L78.10 705.5L78.60 705.4L79.10 705.4L79.60 705.5L80.10 705.5L80.60 705.4L81.10 705.4L81.60 705.5L82.10 705.5L82.60 705.5L83.10 705.4L83.60 705.4L84.10 705.5L84.60 705.4L85.10 705.4L85.60 705.5L86.10 705.4L86.60 705.4L87.00 696.6L87.10 696.8L87.60 698.2L88.10 698.0L88.60 698.3L89.10 697.5L89.60 696.6L90.10 699.8L90.60 700.1L91.00 695.9L91.10 696.3L91.60 697.9L92.10 696.8L92.20 695.9L92.60 698.0L93.10 698.7L93.60 698.3L94.00 697.7L94.10 698.5L94.60 700.5L95.10 701.1L95.60 702.7L96.10 704.0L96.60 704.1L97.10 704.1L97.60 704.1L98.10 703.9L98.60 705.1L99.10 704.1L99.60 704.0L100.10 703.7L100.60 703.8L101.10 702.6L101.60 700.7L102.10 698.8L102.60 701.4L103.10 695.4L103.50 694.2L103.60 695.1L104.10 698.8L104.60 697.7L105.10 699.2L105.60 698.6L106.10 698.9L106.60 695.5L107.10 697.5L107.60 662.4L108.10 653.6L108.50 637.8L108.60 647.5L109.10 653.0L109.60 679.2L110.10 690.6L110.60 689.1L111.10 689.8L111.60 699.8L112.10 687.5L112.60 687.4L113.00 683.2L113.10 684.6L113.60 686.9L114.10 688.7L114.60 686.3L115.10 688.3L115.60 689.5L116.10 691.4L116.60 689.9L117.00 682.4L117.10 686.3L117.60 683.6L118.00 682.4L118.10 687.1L118.60 701.9L119.10 699.2L119.60 697.2L120.10 690.6L120.30 686.8L120.60 690.0L121.00 686.8L121.10 692.5L121.60 697.6L122.10 691.1L122.60 685.3L122.90 679.2L123.10 684.2L123.60 683.0L124.10 680.5L124.60 680.2L125.10 681.0L125.50 676.2L125.60 680.9L126.10 686.1L126.60 685.4L127.10 688.9L127.30 685.3L127.60 690.3L128.10 693.8L128.60 693.4L129.10 693.5L129.50 691.9L129.60 692.9L130.10 697.0L130.60 700.0L131.10 701.0L131.60 702.5L132.10 703.3L132.60 703.7L133.10 704.2L133.60 704.0L134.10 703.9L134.60 703.9L135.10 701.2L135.60 699.6L136.10 698.2L136.60 696.2L137.10 696.4L137.50 694.2L137.60 694.5L138.10 694.6L138.60 695.3L139.10 694.8L139.60 695.6L140.10 694.8L140.60 693.0L141.10 700.8L141.20 689.3L141.60 691.6L142.10 691.3L142.60 690.1L143.10 689.4L143.60 690.5L144.10 692.3L144.60 690.2L145.10 691.4L145.60 690.5L146.10 686.3L146.60 687.0L147.00 680.9L147.10 684.4L147.60 682.0L147.70 680.9L148.10 687.8L148.60 687.4L149.10 688.2L149.20 686.8L149.60 689.1L150.10 692.1L150.60 701.6L151.10 691.3L151.60 689.8L152.10 686.8L152.60 687.8L153.10 688.4L153.60 687.8L154.10 687.0L154.60 689.6L155.10 687.8L155.60 686.3L156.10 683.9L156.60 686.1L157.10 685.3L157.60 681.8L158.00 679.2L158.10 683.3L158.60 685.0L159.10 685.8L159.60 682.5L160.10 684.7L160.60 683.6L161.10 682.7L161.60 681.2L162.10 682.4L162.60 682.2L163.10 685.3L163.60 697.0L164.10 682.4L164.50 681.2L164.60 684.1L165.10 687.7L165.60 685.4L166.00 682.0L166.10 682.6L166.60 684.6L167.10 682.9L167.60 682.2L168.10 683.8L168.60 684.5L169.10 682.4L169.60 693.4L170.10 683.4L170.60 686.1L171.10 682.6L171.60 684.3L172.10 682.3L172.60 681.0L173.10 680.2L173.60 680.9L174.10 679.4L174.20 679.2L174.60 693.4L175.10 687.1L175.60 686.1L176.10 681.3L176.60 682.8L177.10 693.9L177.60 683.5L178.10 683.6L178.60 684.2L179.10 682.3L179.60 681.7L180.10 681.7L180.60 682.7L181.10 681.1L181.60 680.1L181.80 678.6L182.10 688.8L182.60 681.3L183.10 683.3L183.60 682.7L184.10 683.6L184.60 695.8L185.10 679.9L185.60 676.5L186.10 677.5L186.60 677.1L187.00 674.0L187.10 678.1L187.60 675.9L188.10 679.7L188.50 674.0L188.60 681.7L189.10 699.1L189.60 695.5L190.10 680.8L190.60 677.5L191.10 679.8L191.60 675.3L192.10 679.6L192.50 673.0L192.60 677.2L193.10 676.6L193.60 677.1L194.10 678.3L194.60 677.0L195.10 676.7L195.60 687.5L196.10 690.2L196.60 692.3L197.10 675.8L197.60 664.4L198.00 655.2L198.10 655.9L198.60 659.4L198.70 655.2L199.10 663.5L199.60 677.4L200.10 680.1L200.60 684.2L201.10 688.5L201.60 695.7L202.10 702.6L202.60 704.7L203.10 704.9L203.60 704.7L204.10 704.6L204.60 701.6L204.90 698.5L205.10 699.5L205.60 700.0L206.10 699.8L206.60 698.8L207.10 698.7L207.60 698.9L208.10 699.0L208.60 699.8L208.90 698.5L209.10 704.4L209.60 700.5L210.10 700.7L210.60 701.1L211.10 700.8L211.60 703.2L212.10 700.6L212.60 700.4L213.10 700.5L213.60 700.2L214.10 700.4L214.60 700.6L215.10 700.0L215.60 699.0L216.10 698.4L216.60 696.2L217.10 696.6L217.60 695.4L218.00 692.9L218.10 694.4L218.60 694.5L219.10 693.7L219.60 693.1L220.10 694.9L220.60 693.1L221.10 694.5L221.60 694.1L222.10 694.5L222.60 693.3L223.10 693.6L223.60 693.8L224.10 695.3L224.60 695.2L225.10 694.5L225.60 694.4L226.10 690.6L226.30 689.8L226.60 692.2L227.10 692.5L227.60 698.4L228.10 694.1L228.60 693.4L229.10 694.5L229.60 692.9L230.10 694.1L230.60 692.8L231.10 693.3L231.60 692.7L232.10 692.3L232.60 693.7L233.10 692.6L233.60 692.4L234.10 692.4L234.50 689.3L234.60 692.9L235.10 691.9L235.60 689.9L236.00 687.2L236.10 688.0L236.60 688.6L237.10 689.3L237.60 688.7L238.10 687.8L238.60 689.2L239.10 687.3L239.60 687.2L240.10 687.4L240.60 688.9L241.10 688.1L241.60 689.3L242.10 687.3L242.60 695.3L243.10 687.8L243.20 687.2L243.60 689.7L244.10 692.0L244.60 693.0L245.10 691.6L245.60 692.7L246.10 690.5L246.60 689.7L247.10 690.0L247.60 688.0L248.10 690.1L248.60 686.8L249.10 685.9L249.60 687.2L250.10 687.1L250.40 683.7L250.60 685.9L251.10 688.1L251.60 697.2L252.10 693.8L252.60 696.5L253.10 696.4L253.60 689.0L254.00 675.5L254.10 676.3L254.60 676.8L255.10 679.3L255.60 676.0L256.00 675.5L256.10 677.7L256.60 686.2L257.10 686.8L257.60 690.5L258.10 693.9L258.60 698.6L259.10 700.7L259.60 701.7L260.10 702.4L260.60 702.0L261.10 702.3L261.60 702.1L262.00 699.5L262.10 699.8L262.60 699.5L263.10 700.5L263.60 700.6L264.10 700.5L264.60 699.5L265.10 699.7L265.60 700.7L266.10 700.8L266.60 699.7L267.10 699.6L267.60 700.4L268.10 699.6L268.30 697.5L268.60 698.7L269.10 697.7L269.60 697.5L270.10 697.9L270.60 698.0L271.10 698.2L271.60 697.6L272.10 697.5L272.60 697.6L273.10 695.6L273.40 691.9L273.60 693.0L274.10 693.0L274.60 694.0L275.10 693.9L275.60 692.5L276.10 700.2L276.60 692.4L277.00 691.9L277.10 692.8L277.60 694.4L278.10 701.0L278.60 694.8L279.10 696.5L279.60 693.0L280.10 688.7L280.60 682.2L281.00 679.2L281.10 684.4L281.60 681.7L282.10 684.8L282.60 690.5L283.10 694.2L283.60 694.7L284.10 697.6L284.60 698.4L285.10 703.3L285.60 698.0L286.00 696.0L286.10 696.1L286.60 697.3L287.10 697.5L287.60 697.9L288.10 697.6L288.60 696.0L289.10 697.1L289.20 696.0L289.60 698.8L290.10 699.1L290.60 699.3L291.10 698.7L291.60 699.9L292.10 699.1L292.60 697.8L293.10 694.7L293.30 692.9L293.60 695.1L294.10 694.0L294.60 693.0L295.10 693.7L295.60 694.5L296.10 693.2L296.60 694.4L297.10 690.9L297.40 687.8L297.60 691.7L298.10 692.5L298.60 693.3L299.10 693.9L299.30 692.4L299.4 707.9Z" fill="#008000" stroke="#008000" stroke-width="0.6" stroke-linejoin="round"/><rect x="86.7" y="614.1" width="168.3" height="16.8" fill="#fff" stroke="#a8a8a8" stroke-width="0.9"/><rect x="88" y="615.5" width="28" height="14" fill="#008000"/><text x="119.2" y="626.5" font-family='"Liberation Serif", serif' font-weight="bold" font-size="12.15">Conventional Framework</text><path d="M34.5 614.1H300.1" stroke="#000" stroke-width="1.4"/><text x="29.2" y="711.1" text-anchor="end" font-family='"Liberation Serif", serif' font-weight="bold" font-size="13.5">0</text><text x="29.2" y="684.5" text-anchor="end" font-family='"Liberation Serif", serif' font-weight="bold" font-size="13.5">2</text><text x="29.2" y="657.9" text-anchor="end" font-family='"Liberation Serif", serif' font-weight="bold" font-size="13.5">4</text><text x="29.2" y="631.3" text-anchor="end" font-family='"Liberation Serif", serif' font-weight="bold" font-size="13.5">6</text><text x="51.71" y="722.8" text-anchor="middle" font-family='"Liberation Serif", serif' font-weight="bold" font-size="13.5">100</text><text x="84.74" y="722.8" text-anchor="middle" font-family='"Liberation Serif", serif' font-weight="bold" font-size="13.5">200</text><text x="117.76" y="722.8" text-anchor="middle" font-family='"Liberation Serif", serif' font-weight="bold" font-size="13.5">300</text><text x="150.79" y="722.8" text-anchor="middle" font-family='"Liberation Serif", serif' font-weight="bold" font-size="13.5">400</text><text x="183.81" y="722.8" text-anchor="middle" font-family='"Liberation Serif", serif' font-weight="bold" font-size="13.5">500</text><text x="216.84" y="722.8" text-anchor="middle" font-family='"Liberation Serif", serif' font-weight="bold" font-size="13.5">600</text><text x="249.86" y="722.8" text-anchor="middle" font-family='"Liberation Serif", serif' font-weight="bold" font-size="13.5">700</text><text x="282.89" y="722.8" text-anchor="middle" font-family='"Liberation Serif", serif' font-weight="bold" font-size="13.5">800</text><text x="167.3" y="749" text-anchor="middle" font-family='"Liberation Serif", serif' font-weight="bold" font-size="21.8">Time (s)</text><text transform="translate(15.1,558.8) rotate(-90)" x="0" y="0" text-anchor="middle" font-family='"Liberation Serif", serif' font-weight="bold" font-size="22.3">Residual error (%)</text><rect x="408.7" y="412.6" width="264" height="93.2" fill="none" stroke="#000" stroke-width="1.4"/><path d="M408.7 488.32h2.5M672.7 488.32h-2.5M408.7 470.85h4.6M672.7 470.85h-4.6M408.7 453.38h2.5M672.7 453.38h-2.5M408.7 435.9h4.6M672.7 435.9h-4.6M408.7 418.43h2.5M672.7 418.43h-2.5M425.2 505.8v-4.6M441.7 505.8v-2.5M458.2 505.8v-4.6M474.7 505.8v-2.5M491.2 505.8v-4.6M507.7 505.8v-2.5M524.2 505.8v-4.6M540.7 505.8v-2.5M557.2 505.8v-4.6M573.7 505.8v-2.5M590.2 505.8v-4.6M606.7 505.8v-2.5M623.2 505.8v-4.6M639.7 505.8v-2.5M656.2 505.8v-4.6" stroke="#000" stroke-width="1.3" fill="none"/><path d="M451.1 506.5L451.10 500.6L451.60 498.8L452.10 497.1L452.60 498.4L453.10 500.2L453.60 501.6L454.10 500.8L454.60 501.0L455.10 500.1L455.60 500.9L456.10 499.8L456.60 502.5L457.10 500.1L457.20 499.7L457.60 502.9L458.10 500.8L458.60 501.4L459.10 502.8L459.60 502.1L460.10 502.4L460.60 503.4L461.10 503.9L461.60 503.5L462.10 504.3L462.60 504.9L463.10 504.3L463.60 504.6L464.10 504.8L464.60 504.8L465.10 503.7L465.60 503.7L466.10 502.9L466.60 503.0L467.10 502.6L467.60 500.6L468.10 501.5L468.40 499.4L468.60 501.1L469.10 501.0L469.60 501.8L470.10 501.3L470.60 502.6L471.10 502.2L471.60 502.5L472.10 503.2L472.60 503.4L473.10 502.7L473.60 503.2L474.10 502.0L474.60 502.7L475.10 502.8L475.60 501.8L476.10 501.6L476.60 500.6L477.10 501.3L477.60 501.2L478.10 499.6L478.60 500.7L479.10 497.5L479.20 493.5L479.60 495.6L480.10 496.3L480.60 495.0L481.10 501.0L481.20 493.5L481.60 496.8L482.10 496.6L482.60 499.2L483.10 499.6L483.60 497.0L484.10 494.1L484.60 493.5L485.10 498.3L485.60 485.1L486.10 490.0L486.60 486.3L487.10 487.1L487.60 479.4L488.10 478.6L488.40 475.1L488.60 479.6L489.10 476.5L489.60 482.1L489.90 475.1L490.10 482.2L490.60 487.9L491.10 482.1L491.60 476.4L492.10 465.8L492.30 460.1L492.60 461.6L492.80 460.1L493.10 482.2L493.60 488.1L494.10 492.8L494.60 493.3L495.10 499.0L495.60 504.0L496.10 504.2L496.60 502.8L497.10 498.6L497.60 491.0L498.10 492.1L498.60 491.8L499.10 491.8L499.60 492.8L500.10 484.8L500.60 487.9L501.10 492.6L501.60 494.4L502.10 496.8L502.60 498.7L503.10 495.7L503.20 488.9L503.60 489.7L504.10 491.3L504.60 483.4L504.70 478.2L505.10 484.3L505.60 484.0L505.70 478.2L506.10 486.8L506.60 493.2L507.10 490.7L507.60 493.4L508.10 495.1L508.60 492.5L508.80 490.5L509.10 491.0L509.60 493.8L509.80 490.5L510.10 495.3L510.60 497.4L511.10 497.5L511.60 499.7L512.10 498.3L512.60 497.6L513.10 499.6L513.60 498.7L514.10 497.6L514.60 498.4L515.00 495.3L515.10 495.5L515.60 497.6L516.10 495.7L516.60 496.0L517.10 498.1L517.60 496.2L518.10 496.5L518.60 495.6L519.10 498.4L519.60 498.8L520.10 498.2L520.60 498.3L521.10 497.5L521.60 497.0L522.10 496.4L522.60 498.9L523.10 496.3L523.20 495.3L523.60 499.2L524.10 499.5L524.60 502.8L525.10 501.0L525.60 501.1L526.10 499.4L526.60 503.5L527.10 504.1L527.60 504.1L528.10 504.1L528.60 502.9L529.00 500.0L529.10 500.5L529.60 502.0L530.10 500.5L530.60 500.0L531.10 500.0L531.60 500.3L532.10 500.5L532.60 500.5L533.10 501.4L533.60 501.6L534.10 501.1L534.60 502.9L535.10 499.5L535.40 496.5L535.60 497.0L536.10 498.4L536.60 498.2L537.10 499.7L537.60 497.7L538.10 497.2L538.60 499.2L539.10 497.2L539.60 498.3L540.10 498.0L540.60 499.6L541.10 496.7L541.60 497.1L542.10 498.1L542.60 495.7L543.10 498.1L543.60 494.9L544.10 498.2L544.60 497.5L545.10 497.6L545.60 501.3L546.10 495.8L546.60 497.3L547.10 498.4L547.60 496.2L548.10 498.3L548.60 494.5L549.10 495.1L549.60 495.3L550.10 495.7L550.60 496.4L551.10 497.1L551.60 494.8L552.10 496.4L552.60 497.1L553.10 495.6L553.60 496.0L554.10 495.7L554.60 497.9L555.10 494.4L555.60 497.6L556.10 495.9L556.50 494.3L556.60 498.9L557.10 502.9L557.60 503.4L558.10 503.1L558.60 503.2L559.10 503.6L559.60 503.4L560.00 498.2L560.10 498.9L560.60 500.3L561.10 500.3L561.60 498.8L562.10 500.8L562.60 499.0L563.10 500.6L563.60 501.5L564.10 498.3L564.60 498.9L565.10 500.5L565.20 498.2L565.60 501.2L566.10 503.1L566.60 503.0L567.10 503.0L567.60 501.4L568.10 493.5L568.60 493.9L569.10 495.6L569.60 496.9L570.10 494.4L570.60 494.4L571.10 494.4L571.60 496.5L572.10 495.7L572.60 492.7L573.10 491.5L573.40 488.9L573.60 490.1L574.10 494.1L574.60 488.9L575.10 491.8L575.60 492.7L576.10 492.3L576.60 492.0L577.10 495.1L577.60 493.2L578.10 490.9L578.60 493.1L579.10 491.8L579.60 490.1L580.10 488.9L580.60 481.6L581.00 477.8L581.10 482.8L581.60 482.6L582.10 483.5L582.60 489.9L583.10 489.4L583.60 487.6L583.90 486.5L584.10 491.3L584.60 492.6L585.10 495.5L585.60 499.8L586.10 496.5L586.60 496.1L587.10 491.1L587.40 487.7L587.60 492.0L588.10 490.8L588.60 492.5L589.10 490.0L589.20 487.7L589.60 490.0L590.10 493.1L590.60 491.5L591.00 491.2L591.10 495.3L591.60 503.4L592.10 504.8L592.60 504.3L593.10 495.7L593.20 490.6L593.60 493.1L594.10 495.7L594.60 501.7L595.10 499.7L595.60 500.5L596.10 499.5L596.60 500.0L597.10 498.6L597.50 490.4L597.60 494.9L598.10 492.5L598.60 490.6L599.10 491.7L599.60 491.7L600.10 491.2L600.50 490.4L600.60 492.4L601.10 501.5L601.60 502.4L602.10 502.0L602.60 502.0L603.10 501.2L603.50 492.8L603.60 500.4L604.10 494.2L604.60 492.9L605.10 495.3L605.60 493.0L606.10 495.4L606.60 496.5L607.10 496.3L607.60 495.9L608.10 496.3L608.60 493.8L609.10 493.1L609.60 495.5L610.10 493.0L610.20 492.8L610.60 498.2L611.10 500.4L611.60 498.5L612.10 497.6L612.60 498.3L613.10 499.7L613.60 503.5L614.10 501.0L614.60 502.8L615.10 502.7L615.60 503.2L616.10 503.1L616.60 500.5L617.10 498.3L617.40 494.7L617.60 494.9L618.10 495.0L618.60 495.7L619.10 495.4L619.30 494.7L619.60 499.4L620.10 503.2L620.60 503.7L621.10 503.8L621.60 502.2L622.10 500.0L622.30 495.3L622.60 498.4L623.10 496.2L623.60 497.4L624.10 498.3L624.60 497.1L624.70 495.3L625.10 498.3L625.60 497.1L626.10 500.4L626.60 498.9L627.10 499.8L627.60 501.4L628.10 502.0L628.60 503.5L629.10 503.9L629.60 504.3L630.10 504.3L630.60 503.8L631.10 502.2L631.60 499.7L632.10 496.0L632.60 494.9L633.10 494.6L633.60 495.5L634.10 495.4L634.40 491.6L634.60 495.6L635.10 496.4L635.60 501.5L636.10 502.3L636.60 503.2L637.10 504.3L637.60 501.3L638.00 495.3L638.10 498.5L638.60 495.3L639.10 497.6L639.60 497.7L640.10 498.1L640.60 497.1L641.10 495.6L641.60 495.4L641.70 495.3L642.10 499.8L642.60 500.1L643.10 498.8L643.60 498.9L644.10 498.9L644.60 499.1L645.10 498.7L645.60 500.5L646.10 498.0L646.60 495.5L647.10 492.8L647.60 493.0L648.10 497.3L648.30 492.8L648.60 498.6L649.10 498.0L649.60 499.4L650.10 498.1L650.60 498.2L651.10 498.9L651.60 499.7L652.10 497.3L652.60 498.9L653.10 499.1L653.60 494.6L653.80 493.4L654.10 497.2L654.40 493.4L654.60 499.8L655.10 502.0L655.60 497.2L656.10 497.5L656.60 498.6L657.10 497.6L657.60 498.0L658.10 500.0L658.60 497.3L659.10 497.7L659.60 498.3L660.10 498.7L660.60 495.0L661.10 496.4L661.60 495.9L661.70 491.6L662.10 491.6L662.60 492.9L663.10 495.5L663.50 491.6L663.60 492.9L664.10 496.9L664.60 494.5L665.10 502.1L665.60 497.9L666.10 500.1L666.60 499.2L667.10 502.0L667.60 501.1L668.10 502.4L668.60 503.4L669.10 503.9L669.60 504.1L670.10 502.3L670.60 501.5L670.80 499.5L671.10 501.6L671.60 499.6L672.10 500.5L672.60 499.5L672.7 506.5Z" fill="#0000ff" stroke="#0000ff" stroke-width="0.6" stroke-linejoin="round"/><rect x="442.7" y="412.6" width="207" height="16.8" fill="#fff" stroke="#a8a8a8" stroke-width="0.9"/><rect x="444" y="414" width="28" height="14" fill="#0000ff"/><text x="475.2" y="425" font-family='"Liberation Serif", serif' font-weight="bold" font-size="12.15">Proposed Framework (KE-ANN)</text><path d="M408 412.6H673.4" stroke="#000" stroke-width="1.4"/><text x="402.9" y="509.7" text-anchor="end" font-family='"Liberation Serif", serif' font-weight="bold" font-size="13.5">0.0</text><text x="402.9" y="474.75" text-anchor="end" font-family='"Liberation Serif", serif' font-weight="bold" font-size="13.5">1.5</text><text x="402.9" y="439.8" text-anchor="end" font-family='"Liberation Serif", serif' font-weight="bold" font-size="13.5">3.0</text><rect x="408.7" y="515.8" width="264" height="93.5" fill="none" stroke="#000" stroke-width="1.4"/><path d="M408.7 591.77h2.5M672.7 591.77h-2.5M408.7 574.24h4.6M672.7 574.24h-4.6M408.7 556.71h2.5M672.7 556.71h-2.5M408.7 539.17h4.6M672.7 539.17h-4.6M408.7 521.64h2.5M672.7 521.64h-2.5M425.2 609.3v-4.6M441.7 609.3v-2.5M458.2 609.3v-4.6M474.7 609.3v-2.5M491.2 609.3v-4.6M507.7 609.3v-2.5M524.2 609.3v-4.6M540.7 609.3v-2.5M557.2 609.3v-4.6M573.7 609.3v-2.5M590.2 609.3v-4.6M606.7 609.3v-2.5M623.2 609.3v-4.6M639.7 609.3v-2.5M656.2 609.3v-4.6" stroke="#000" stroke-width="1.3" fill="none"/><path d="M451.0 610.0L451.00 607.7L451.50 606.8L452.00 604.7L452.50 606.7L453.00 606.2L453.50 605.2L454.00 605.5L454.50 605.8L455.00 606.6L455.50 606.0L456.00 606.5L456.50 606.3L456.70 604.7L457.00 605.9L457.50 607.3L458.00 608.4L458.50 608.7L459.00 608.3L459.50 608.7L460.00 608.6L460.50 608.5L461.00 608.5L461.50 608.6L462.00 608.4L462.50 608.7L463.00 608.4L463.50 608.3L464.00 608.6L464.50 609.0L465.00 608.6L465.50 607.5L466.00 607.1L466.50 607.2L467.00 606.8L467.50 605.9L468.00 606.1L468.40 605.2L468.50 606.2L469.00 607.1L469.50 606.0L470.00 607.1L470.50 606.4L471.00 607.6L471.50 607.4L472.00 607.4L472.50 607.0L473.00 607.8L473.50 607.0L474.00 607.7L474.50 606.8L475.00 606.7L475.50 607.5L476.00 606.5L476.50 606.8L477.00 606.4L477.50 606.5L478.00 607.2L478.50 605.8L479.00 605.3L479.50 606.9L480.00 606.4L480.50 606.5L481.00 606.5L481.50 607.0L482.00 608.3L482.50 608.5L483.00 607.1L483.50 606.3L484.00 604.5L484.50 604.3L485.00 605.8L485.50 604.7L486.00 606.3L486.50 605.9L487.00 605.5L487.50 603.1L488.00 604.7L488.50 602.9L488.90 601.6L489.00 603.3L489.50 605.1L490.00 604.9L490.50 603.6L491.00 603.7L491.50 595.0L492.00 587.0L492.50 561.3L493.00 582.9L493.50 590.1L494.00 588.9L494.50 589.2L495.00 590.5L495.50 595.2L496.00 597.2L496.50 598.9L497.00 601.0L497.50 598.2L498.00 601.5L498.50 599.6L499.00 602.3L499.50 606.0L500.00 592.7L500.10 585.3L500.50 585.9L501.00 593.0L501.50 587.7L501.60 585.3L502.00 594.7L502.50 596.8L503.00 599.2L503.50 599.5L504.00 589.8L504.50 581.9L504.70 579.2L505.00 589.1L505.50 593.1L506.00 593.9L506.50 590.3L507.00 590.6L507.30 589.9L507.50 592.3L508.00 594.6L508.50 596.3L509.00 596.9L509.30 593.5L509.50 599.6L510.00 595.8L510.50 599.9L511.00 599.4L511.50 596.7L512.00 596.7L512.50 598.2L513.00 602.0L513.50 598.7L514.00 597.4L514.50 597.1L515.00 598.5L515.50 596.7L516.00 600.8L516.50 600.2L517.00 596.2L517.50 600.7L518.00 596.0L518.50 596.6L519.00 597.9L519.50 601.4L520.00 599.9L520.50 602.2L521.00 597.0L521.50 599.0L522.00 600.1L522.50 601.0L523.00 601.8L523.50 601.5L524.00 600.4L524.50 605.3L525.00 603.7L525.50 601.8L526.00 601.3L526.10 599.4L526.50 603.1L527.00 603.6L527.50 605.8L528.00 604.2L528.50 604.3L529.00 604.1L529.50 603.8L530.00 605.5L530.50 605.4L531.00 604.6L531.50 602.0L532.00 600.4L532.50 602.0L533.00 602.5L533.50 600.0L534.00 602.0L534.50 598.8L535.00 599.9L535.50 601.6L536.00 599.5L536.50 600.5L537.00 598.2L537.50 597.4L538.00 600.5L538.40 597.0L538.50 601.2L539.00 605.3L539.50 599.9L540.00 600.1L540.50 599.8L541.00 603.1L541.50 601.4L542.00 600.1L542.50 600.0L543.00 598.3L543.50 598.8L544.00 601.7L544.50 602.4L545.00 600.3L545.50 600.5L546.00 597.6L546.50 596.8L547.00 599.3L547.50 596.5L548.00 600.3L548.50 597.0L549.00 600.3L549.50 595.8L550.00 595.3L550.50 600.0L551.00 599.7L551.50 599.4L552.00 594.2L552.50 596.9L553.00 597.0L553.50 597.4L554.00 593.4L554.50 595.0L555.00 594.2L555.50 595.3L556.00 593.4L556.50 597.5L557.00 592.3L557.50 598.4L558.00 599.9L558.50 600.6L559.00 598.3L559.50 598.4L560.00 596.8L560.50 591.1L561.00 596.9L561.50 590.1L562.00 594.2L562.50 590.2L562.90 588.3L563.00 592.7L563.50 594.1L564.00 597.6L564.50 589.8L565.00 596.4L565.50 596.9L566.00 592.6L566.50 599.1L567.00 597.5L567.50 598.7L568.00 596.9L568.50 596.7L569.00 593.7L569.50 589.0L570.00 585.9L570.50 592.4L571.00 590.4L571.50 598.2L572.00 594.0L572.50 599.9L572.80 593.5L573.00 598.7L573.50 604.1L574.00 601.3L574.50 601.6L575.00 601.0L575.50 601.8L576.00 600.6L576.50 601.7L577.00 600.9L577.50 601.1L578.00 600.8L578.50 606.8L579.00 605.7L579.50 603.3L580.00 600.8L580.40 600.5L580.50 601.5L581.00 607.6L581.50 606.5L582.00 593.1L582.50 583.4L582.80 569.0L583.00 569.9L583.40 569.0L583.50 578.6L584.00 589.1L584.50 600.8L585.00 601.5L585.50 603.8L586.00 601.5L586.50 599.2L587.00 600.7L587.40 595.3L587.50 596.8L588.00 601.8L588.50 601.5L589.00 603.6L589.50 603.2L590.00 605.1L590.50 591.0L590.70 582.4L591.00 588.8L591.50 582.4L592.00 598.8L592.50 598.0L593.00 598.1L593.50 596.7L594.00 599.3L594.50 599.5L595.00 596.0L595.50 600.3L596.00 601.5L596.50 603.3L597.00 605.5L597.50 604.0L598.00 602.9L598.50 603.1L599.00 603.3L599.50 601.5L599.90 596.0L600.00 598.4L600.50 596.4L601.00 598.7L601.50 597.3L601.70 596.0L602.00 600.6L602.50 605.1L603.00 606.4L603.50 605.2L604.00 606.3L604.50 605.2L605.00 605.4L605.50 604.5L606.00 601.4L606.50 603.3L607.00 604.4L607.50 603.7L608.00 604.8L608.50 601.5L609.00 603.7L609.50 604.2L610.00 604.6L610.50 604.1L611.00 603.0L611.40 601.4L611.50 603.3L612.00 607.0L612.50 605.8L613.00 606.7L613.50 607.1L614.00 605.8L614.50 606.4L615.00 607.1L615.50 606.6L616.00 607.4L616.50 604.4L616.80 600.2L617.00 600.9L617.50 601.1L618.00 603.8L618.50 604.2L619.00 603.3L619.30 600.2L619.50 603.2L620.00 605.7L620.50 605.4L621.00 605.4L621.50 607.8L622.00 605.6L622.30 602.0L622.50 604.3L623.00 605.2L623.50 604.0L624.00 602.2L624.50 603.6L625.00 604.0L625.50 604.6L626.00 602.0L626.50 606.9L627.00 607.2L627.50 607.1L628.00 607.0L628.50 607.9L629.00 607.2L629.50 607.7L630.00 606.9L630.50 607.0L631.00 607.0L631.50 607.8L632.00 607.3L632.50 605.7L633.00 603.1L633.20 599.0L633.50 599.7L634.00 599.9L634.50 601.6L635.00 600.0L635.50 600.6L636.00 599.4L636.50 600.1L637.00 599.4L637.50 601.1L638.00 602.2L638.50 601.6L639.00 603.0L639.50 599.0L639.90 599.0L640.00 601.4L640.50 605.5L641.00 604.3L641.50 605.0L642.00 604.4L642.50 604.3L643.00 604.8L643.50 606.7L644.00 604.4L644.50 604.4L645.00 605.0L645.50 605.8L646.00 604.3L646.50 605.7L647.00 605.1L647.50 604.4L648.00 604.8L648.50 603.9L649.00 604.3L649.50 605.2L649.60 602.0L650.00 603.2L650.50 602.7L651.00 605.2L651.40 602.0L651.50 604.7L652.00 606.4L652.50 605.3L653.00 605.4L653.50 605.2L654.00 604.7L654.50 605.8L655.00 605.3L655.50 605.9L656.00 606.2L656.50 604.8L657.00 605.8L657.50 605.7L658.00 605.3L658.50 607.2L659.00 605.9L659.50 605.3L660.00 606.2L660.50 602.4L661.00 599.6L661.50 600.5L662.00 600.4L662.50 603.7L663.00 603.0L663.50 601.8L664.00 605.8L664.50 603.2L665.00 600.4L665.50 601.9L666.00 599.6L666.50 605.6L667.00 605.0L667.50 604.3L668.00 604.8L668.50 604.3L669.00 604.3L669.50 607.7L670.00 606.1L670.50 603.8L671.00 605.1L671.40 602.0L671.50 602.2L672.00 602.5L672.50 604.2L672.60 602.0L672.7 610.0Z" fill="#ff8000" stroke="#ff8000" stroke-width="0.6" stroke-linejoin="round"/><rect x="449.6" y="515.8" width="193.4" height="16.8" fill="#fff" stroke="#a8a8a8" stroke-width="0.9"/><rect x="450.9" y="517.2" width="28" height="14" fill="#ff8000"/><text x="482.1" y="528.2" font-family='"Liberation Serif", serif' font-weight="bold" font-size="12.15">Proposed Framework (NARX)</text><path d="M408 515.8H673.4" stroke="#000" stroke-width="1.4"/><text x="402.9" y="613.2" text-anchor="end" font-family='"Liberation Serif", serif' font-weight="bold" font-size="13.5">0.0</text><text x="402.9" y="578.14" text-anchor="end" font-family='"Liberation Serif", serif' font-weight="bold" font-size="13.5">1.5</text><text x="402.9" y="543.07" text-anchor="end" font-family='"Liberation Serif", serif' font-weight="bold" font-size="13.5">3.0</text><rect x="408.7" y="614.1" width="264" height="93.1" fill="none" stroke="#000" stroke-width="1.4"/><path d="M408.7 689.74h2.5M672.7 689.74h-2.5M408.7 672.29h4.6M672.7 672.29h-4.6M408.7 654.83h2.5M672.7 654.83h-2.5M408.7 637.38h4.6M672.7 637.38h-4.6M408.7 619.92h2.5M672.7 619.92h-2.5M425.2 707.2v-4.6M441.7 707.2v-2.5M458.2 707.2v-4.6M474.7 707.2v-2.5M491.2 707.2v-4.6M507.7 707.2v-2.5M524.2 707.2v-4.6M540.7 707.2v-2.5M557.2 707.2v-4.6M573.7 707.2v-2.5M590.2 707.2v-4.6M606.7 707.2v-2.5M623.2 707.2v-4.6M639.7 707.2v-2.5M656.2 707.2v-4.6" stroke="#000" stroke-width="1.3" fill="none"/><path d="M451.4 707.9L451.40 699.1L451.90 698.6L452.40 703.4L452.90 700.1L453.40 699.4L453.90 699.0L454.40 698.9L454.90 699.7L455.40 699.2L455.90 698.6L456.40 698.6L456.90 698.6L457.40 697.3L457.90 698.4L458.40 698.7L458.90 697.1L459.40 697.3L459.90 698.4L460.40 698.5L460.90 697.9L461.40 696.2L461.90 697.3L462.40 697.2L462.90 699.5L463.40 696.9L463.90 696.5L464.40 695.2L464.90 693.9L465.40 694.0L465.90 693.2L466.40 692.1L466.90 694.6L467.40 693.0L467.90 693.0L468.40 692.8L468.70 690.2L468.90 690.9L469.40 693.6L469.90 692.6L470.40 693.4L470.90 693.7L471.40 696.2L471.90 697.1L472.40 697.1L472.90 696.3L473.40 697.4L473.90 698.5L474.40 698.2L474.90 699.2L475.40 699.6L475.90 698.9L476.40 699.6L476.90 704.3L477.40 701.0L477.90 700.6L478.40 701.8L478.90 700.9L479.40 701.3L479.90 702.1L480.40 700.5L480.90 698.5L481.40 697.4L481.90 695.6L482.40 694.1L482.90 695.4L483.40 691.6L483.90 690.7L484.40 691.6L484.80 689.2L484.90 692.9L485.40 691.0L485.90 691.9L486.40 694.6L486.90 692.8L487.40 694.2L487.90 694.5L488.40 697.5L488.90 693.8L489.40 689.4L489.90 674.9L490.40 656.1L490.90 639.4L491.00 627.2L491.40 632.3L491.90 629.2L492.00 627.2L492.40 642.9L492.90 652.6L493.40 660.5L493.90 660.3L494.40 660.7L494.90 662.9L495.30 659.2L495.40 664.6L495.90 664.8L496.40 667.0L496.90 663.0L497.40 667.0L497.90 666.2L498.00 662.6L498.40 671.7L498.90 674.4L499.40 666.2L499.90 658.5L500.00 650.2L500.40 650.6L500.90 653.9L501.40 656.2L501.90 653.6L502.40 650.2L502.90 653.2L503.40 649.0L503.80 632.2L503.90 634.8L504.40 640.7L504.90 643.8L505.40 644.9L505.90 650.7L506.40 645.1L506.90 645.7L507.40 649.5L507.90 650.8L508.40 679.8L508.90 670.5L509.40 656.2L509.90 653.0L510.40 652.6L510.90 653.4L511.40 653.0L511.90 651.4L512.40 657.2L512.90 651.1L513.40 651.5L513.90 650.4L514.40 668.4L514.90 652.9L515.40 652.9L515.90 652.8L516.40 656.2L516.90 651.3L517.40 653.9L517.90 652.4L518.00 649.2L518.40 654.1L518.90 656.1L519.40 650.7L519.90 651.1L520.40 657.0L520.90 650.8L521.40 651.4L521.90 652.0L522.40 653.1L522.90 657.5L523.40 650.8L523.90 652.4L524.40 653.2L524.90 669.7L525.40 651.7L525.90 680.9L526.40 656.0L526.90 653.7L527.40 651.3L527.90 653.0L528.40 652.3L528.90 653.8L529.40 655.0L529.90 655.7L530.40 655.5L530.90 649.5L531.40 648.8L531.90 654.5L532.40 651.0L532.90 651.2L533.00 648.2L533.40 652.4L533.90 648.4L534.40 653.8L534.90 686.7L535.40 650.2L535.90 654.3L536.40 653.4L536.90 681.8L537.40 651.5L537.90 649.7L538.40 655.2L538.90 654.0L539.40 685.8L539.90 654.1L540.40 649.2L540.90 653.1L541.40 648.3L541.90 650.5L542.40 648.5L542.90 653.6L543.40 651.2L543.90 652.4L544.40 650.4L544.90 647.4L545.00 647.2L545.40 647.7L545.90 651.0L546.40 647.7L546.90 649.8L547.40 654.0L547.90 651.4L548.40 650.4L548.90 648.4L549.40 647.8L549.90 648.7L550.00 647.2L550.40 648.0L550.90 649.5L551.40 648.9L551.90 648.1L552.40 650.7L552.90 649.4L553.40 650.0L553.90 654.4L554.40 653.1L554.90 650.3L555.40 674.1L555.90 653.5L556.40 651.0L556.90 654.4L557.40 656.0L557.90 661.2L558.40 663.7L558.90 664.3L559.40 673.8L559.80 650.2L559.90 655.5L560.40 654.0L560.90 657.0L561.40 651.3L561.90 656.9L562.40 650.3L562.90 652.5L563.40 655.5L563.90 650.6L564.40 650.7L564.50 650.2L564.90 654.9L565.40 660.0L565.90 664.4L566.40 664.7L566.90 659.6L567.40 664.5L567.90 659.6L568.40 654.1L568.90 652.8L569.30 648.2L569.40 654.8L569.90 649.9L570.20 648.2L570.40 655.1L570.90 659.1L571.40 668.8L571.90 691.5L572.40 700.0L572.90 701.5L573.40 702.8L573.90 704.4L574.40 705.0L574.90 704.6L575.40 703.7L575.90 706.1L576.40 704.0L576.90 704.0L577.40 704.7L577.90 705.1L578.40 704.8L578.90 703.6L579.40 701.5L579.90 700.1L580.40 699.8L580.90 696.2L581.40 694.1L581.90 686.0L582.40 681.5L582.60 673.5L582.90 676.7L583.40 681.2L583.90 691.1L584.40 689.0L584.90 686.7L585.30 683.4L585.40 688.9L585.90 699.4L586.40 701.8L586.90 701.9L587.40 702.3L587.90 704.2L588.40 703.7L588.90 702.9L589.40 698.9L589.60 691.9L589.90 694.5L590.40 695.0L590.70 691.9L590.90 696.3L591.40 697.0L591.90 697.3L592.40 702.5L592.90 700.2L593.40 695.0L593.80 694.2L593.90 699.5L594.40 694.2L594.50 694.2L594.90 701.9L595.40 704.1L595.90 702.8L596.40 704.5L596.90 703.9L597.40 703.1L597.90 703.6L598.40 703.0L598.90 704.7L599.40 699.9L599.90 692.6L600.40 693.3L600.90 693.0L601.40 692.6L601.90 697.4L602.40 699.5L602.90 702.5L603.40 699.7L603.90 701.2L604.40 699.8L604.90 699.5L605.40 700.9L605.90 702.4L606.40 700.7L606.80 699.5L606.90 702.4L607.40 702.2L607.90 703.1L608.40 702.8L608.90 704.2L609.40 703.0L609.90 703.1L610.40 703.5L610.90 702.7L611.40 704.6L611.90 704.2L612.40 702.7L612.90 703.9L613.40 703.4L613.90 703.5L614.40 700.7L614.50 697.2L614.90 699.8L615.40 700.0L615.90 698.0L616.00 697.2L616.40 701.1L616.90 703.2L617.40 703.1L617.90 703.4L618.30 698.0L618.40 700.4L618.90 699.3L619.40 701.8L619.80 698.0L619.90 699.6L620.40 702.8L620.90 704.7L621.40 703.6L621.90 703.3L622.40 704.7L622.90 698.0L623.40 698.4L623.60 698.0L623.90 700.9L624.40 705.3L624.90 706.1L625.40 705.9L625.90 706.0L626.40 704.5L626.90 703.7L627.40 702.6L627.90 700.1L628.40 701.4L628.90 700.9L629.40 701.2L629.90 697.4L630.40 699.5L630.90 699.2L631.40 700.0L631.90 697.7L632.40 688.9L632.90 692.1L633.40 685.5L633.60 679.6L633.90 699.2L634.40 680.8L634.90 685.3L635.40 691.1L635.90 679.6L636.40 694.8L636.90 686.7L637.40 688.6L637.90 681.0L638.20 674.2L638.40 676.0L638.90 680.2L639.40 692.7L639.90 692.9L640.40 686.0L640.50 681.9L640.90 688.1L641.40 689.9L641.90 694.6L642.40 690.3L642.90 693.6L643.40 693.2L643.90 691.0L644.40 696.5L644.90 694.9L645.10 688.0L645.40 695.6L645.90 698.5L646.40 695.4L646.90 697.6L647.40 699.9L647.90 696.2L648.40 694.4L648.90 694.6L649.00 688.8L649.40 693.3L649.90 692.1L650.40 689.5L650.90 693.1L651.40 689.1L651.90 689.5L652.40 690.9L652.90 692.2L653.40 692.1L653.90 689.1L654.40 691.9L654.90 689.2L655.40 689.5L655.80 688.8L655.90 690.4L656.40 700.2L656.90 693.8L657.40 689.3L657.90 694.4L658.40 694.3L658.90 692.7L659.40 686.8L659.90 692.0L660.40 684.9L660.90 693.9L661.40 687.5L661.90 686.6L662.40 687.9L662.70 671.2L662.90 681.0L663.40 677.9L663.90 672.0L664.30 671.2L664.40 674.7L664.90 684.0L665.40 677.8L665.90 686.8L666.40 690.9L666.90 698.1L667.40 680.7L667.90 681.8L668.40 690.1L668.90 691.4L669.40 690.0L669.90 692.4L670.40 676.5L670.90 687.3L671.40 679.2L671.90 688.3L672.40 681.1L672.50 676.5L672.7 707.9Z" fill="#008000" stroke="#008000" stroke-width="0.6" stroke-linejoin="round"/><rect x="460.3" y="614.1" width="167.7" height="16.8" fill="#fff" stroke="#a8a8a8" stroke-width="0.9"/><rect x="461.6" y="615.5" width="28" height="14" fill="#008000"/><text x="492.8" y="626.5" font-family='"Liberation Serif", serif' font-weight="bold" font-size="12.15">Conventional Framework</text><path d="M408 614.1H673.4" stroke="#000" stroke-width="1.4"/><text x="402.9" y="711.1" text-anchor="end" font-family='"Liberation Serif", serif' font-weight="bold" font-size="13.5">0.0</text><text x="402.9" y="676.19" text-anchor="end" font-family='"Liberation Serif", serif' font-weight="bold" font-size="13.5">1.5</text><text x="402.9" y="641.27" text-anchor="end" font-family='"Liberation Serif", serif' font-weight="bold" font-size="13.5">3.0</text><text x="425.2" y="722.8" text-anchor="middle" font-family='"Liberation Serif", serif' font-weight="bold" font-size="13.5">100</text><text x="458.2" y="722.8" text-anchor="middle" font-family='"Liberation Serif", serif' font-weight="bold" font-size="13.5">200</text><text x="491.2" y="722.8" text-anchor="middle" font-family='"Liberation Serif", serif' font-weight="bold" font-size="13.5">300</text><text x="524.2" y="722.8" text-anchor="middle" font-family='"Liberation Serif", serif' font-weight="bold" font-size="13.5">400</text><text x="557.2" y="722.8" text-anchor="middle" font-family='"Liberation Serif", serif' font-weight="bold" font-size="13.5">500</text><text x="590.2" y="722.8" text-anchor="middle" font-family='"Liberation Serif", serif' font-weight="bold" font-size="13.5">600</text><text x="623.2" y="722.8" text-anchor="middle" font-family='"Liberation Serif", serif' font-weight="bold" font-size="13.5">700</text><text x="656.2" y="722.8" text-anchor="middle" font-family='"Liberation Serif", serif' font-weight="bold" font-size="13.5">800</text><text x="540.7" y="749" text-anchor="middle" font-family='"Liberation Serif", serif' font-weight="bold" font-size="21.8">Time (s)</text><text transform="translate(377.8,558.7) rotate(-90)" x="0" y="0" text-anchor="middle" font-family='"Liberation Serif", serif' font-weight="bold" font-size="22.3">Residual error (%)</text><text x="170.2" y="359.5" text-anchor="middle" font-family='"Liberation Serif", serif' font-size="18.2">(i) Inlet flowrate estimation</text><text x="559.4" y="359.5" text-anchor="middle" font-family='"Liberation Serif", serif' font-size="18.2">(ii) Outlet flowrate estimation</text><text x="359.3" y="382.7" text-anchor="middle" font-family='"Liberation Serif", serif' font-size="18.2">(a) Case 3</text><text x="170.2" y="776.3" text-anchor="middle" font-family='"Liberation Serif", serif' font-size="18.2">(i) Inlet flowrate estimation</text><text x="559.4" y="775.7" text-anchor="middle" font-family='"Liberation Serif", serif' font-size="18.2">(ii) Outlet flowrate estimation</text><text x="358.2" y="787.9" text-anchor="middle" font-family='"Liberation Serif", serif' font-size="18.2">(b) Case 4</text></svg>
</body></html>
